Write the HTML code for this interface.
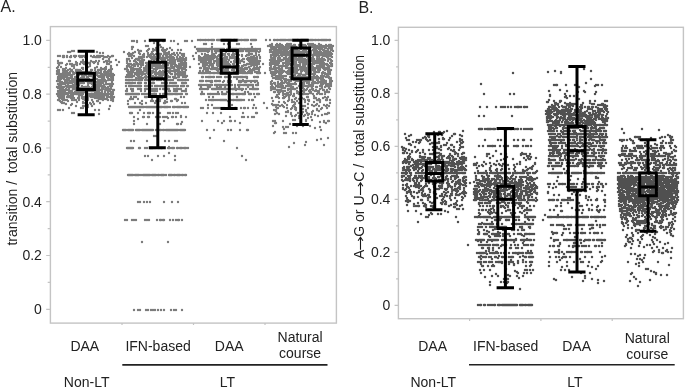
<!DOCTYPE html>
<html><head><meta charset="utf-8"><style>
html,body{margin:0;padding:0;background:#fff;width:685px;height:389px;overflow:hidden}
svg{display:block;filter:grayscale(100%)}
</style></head><body>
<svg width="685" height="389" viewBox="0 0 685 389" font-family="Liberation Sans, sans-serif" font-size="14" fill="#222">
<rect x="50.4" y="26.6" width="286" height="296.5" fill="none" stroke="#c4c4c4" stroke-width="1.4"/>
<rect x="398.4" y="27.3" width="285" height="291.4" fill="none" stroke="#c4c4c4" stroke-width="1.4"/>
<path d="M46.2 309.3H50.4 M394.6 305.4H398.4 M47.7 282.4H50.4 M396.1 278.9H398.4 M46.2 255.5H50.4 M394.6 252.4H398.4 M47.7 228.6H50.4 M396.1 225.9H398.4 M46.2 201.7H50.4 M394.6 199.4H398.4 M47.7 174.9H50.4 M396.1 172.9H398.4 M46.2 148.0H50.4 M394.6 146.4H398.4 M47.7 121.1H50.4 M396.1 119.9H398.4 M46.2 94.2H50.4 M394.6 93.4H398.4 M47.7 67.3H50.4 M396.1 66.9H398.4 M46.2 40.4H50.4 M394.6 40.4H398.4 M122.0 323.1v2 M193.5 323.1v2 M265.0 323.1v2 M469.6 318.9v2 M540.9 318.9v2 M612.2 318.9v2" stroke="#c4c4c4" stroke-width="1.2" fill="none"/>
<text x="41.9" y="314.2" text-anchor="end">0</text>
<text x="390.4" y="310.3" text-anchor="end">0</text>
<text x="41.9" y="260.4" text-anchor="end">0.2</text>
<text x="390.4" y="257.3" text-anchor="end">0.2</text>
<text x="41.9" y="206.6" text-anchor="end">0.4</text>
<text x="390.4" y="204.3" text-anchor="end">0.4</text>
<text x="41.9" y="152.9" text-anchor="end">0.6</text>
<text x="390.4" y="151.3" text-anchor="end">0.6</text>
<text x="41.9" y="99.1" text-anchor="end">0.8</text>
<text x="390.4" y="98.3" text-anchor="end">0.8</text>
<text x="41.9" y="45.3" text-anchor="end">1.0</text>
<text x="390.4" y="45.3" text-anchor="end">1.0</text>
<text transform="translate(17,158.8) rotate(-90)" text-anchor="middle" xml:space="preserve">transition /  total substitution</text>
<g transform="translate(364.3,260) rotate(-90)"><text x="0.9" y="0">A</text><text x="23.3" y="0">G or U</text><text x="78.2" y="0" xml:space="preserve">C /  total substitution</text><path d="M10.3 -3.8H22.5M19.2 -6.2L22.7 -3.8L19.2 -1.4M65.0 -3.8H77.0M73.7 -6.2L77.2 -3.8L73.7 -1.4" stroke="#1a1a1a" stroke-width="1.1" fill="none"/></g>
<text x="84.8" y="350.5" text-anchor="middle">DAA</text>
<text x="158.1" y="350.5" text-anchor="middle">IFN-based</text>
<text x="229.2" y="350.5" text-anchor="middle">DAA</text>
<text x="300.1" y="342.3" text-anchor="middle">Natural</text>
<text x="300.1" y="358.1" text-anchor="middle">course</text>
<text x="86.7" y="387.2" text-anchor="middle">Non-LT</text>
<text x="227.3" y="387.2" text-anchor="middle">LT</text>
<path d="M122.3 364.9H327.5" stroke="#222" stroke-width="1.6"/>
<text x="432.6" y="351.0" text-anchor="middle">DAA</text>
<text x="505.7" y="351.0" text-anchor="middle">IFN-based</text>
<text x="576.6" y="351.0" text-anchor="middle">DAA</text>
<text x="647.2" y="342.8" text-anchor="middle">Natural</text>
<text x="647.2" y="358.6" text-anchor="middle">course</text>
<text x="433.3" y="387.2" text-anchor="middle">Non-LT</text>
<text x="574.8" y="387.2" text-anchor="middle">LT</text>
<path d="M469.0 364.7H674.7" stroke="#222" stroke-width="1.6"/>
<text x="0.5" y="12.3" font-size="16">A.</text>
<text x="358.4" y="12.6" font-size="16">B.</text>
<path d="M68 52h0M70 52h0M72 51h0M74 51h0M97 52h0M100 53h0M103 53h0M60 63h0M116 60h0M117 65h0M119 62h0M63 56h0M71 56h0M103 56h0M91 56h0M63 56h0M82 56h0M85 56h0M67 56h0M99 56h0M64 56h0M80 56h0M87 56h0M82 56h0M91 56h0M99 56h0M112 56h0M74 56h0M94 56h0M97 56h0M74 56h0M58 56h0M113 56h0M75 56h0M76 56h0M108 56h0M91 56h0M84 56h0M101 56h0M60 56h0M98 56h0M79 56h0M63 57h0M95 57h0M110 57h0M70 57h0M93 57h0M75 57h0M99 57h0M98 57h0M71 57h0M104 57h0M95 57h0M96 57h0M104 57h0M82 57h0M100 57h0M107 57h0M64 57h0M105 57h0M80 57h0M85 57h0M67 57h0M97 57h0M75 57h0M93 62h0M91 61h0M103 59h0M70 61h0M95 62h0M58 61h0M83 61h0M107 61h0M109 59h0M106 61h0M99 61h0M90 64h0M96 61h0M109 61h0M83 60h0M109 61h0M111 62h0M76 62h0M107 62h0M84 62h0M104 62h0M110 62h0M81 62h0M94 63h0M111 62h0M83 63h0M72 64h0M62 63h0M87 63h0M107 64h0M69 61h0M107 63h0M88 63h0M59 65h0M62 63h0M61 63h0M90 63h0M98 64h0M70 64h0M86 64h0M67 64h0M77 63h0M72 64h0M58 63h0M74 65h0M80 64h0M66 65h0M89 63h0M111 67h0M109 64h0M74 65h0M76 64h0M84 64h0M111 66h0M98 63h0M72 65h0M77 65h0M59 65h0M72 66h0M72 66h0M74 66h0M88 67h0M74 65h0M106 67h0M86 65h0M58 67h0M95 70h0M103 69h0M90 66h0M57 68h0M101 68h0M83 68h0M111 68h0M65 69h0M74 68h0M61 67h0M82 68h0M95 68h0M66 68h0M100 70h0M106 69h0M97 67h0M68 70h0M105 68h0M105 68h0M83 69h0M70 69h0M63 70h0M112 69h0M91 70h0M98 70h0M99 70h0M101 70h0M76 70h0M77 70h0M78 70h0M80 70h0M110 70h0M92 70h0M59 71h0M103 69h0M79 71h0M59 70h0M104 69h0M98 72h0M71 71h0M67 72h0M58 70h0M101 71h0M105 69h0M102 69h0M63 69h0M67 71h0M98 72h0M91 71h0M81 71h0M65 71h0M101 71h0M109 70h0M91 73h0M104 72h0M96 73h0M66 71h0M110 71h0M64 71h0M108 71h0M57 73h0M91 73h0M76 71h0M66 72h0M88 72h0M88 72h0M57 71h0M78 72h0M72 70h0M84 72h0M67 72h0M111 72h0M83 72h0M73 72h0M105 71h0M73 74h0M75 73h0M65 74h0M105 72h0M104 72h0M96 72h0M83 73h0M74 74h0M70 72h0M78 73h0M70 72h0M97 74h0M99 73h0M78 73h0M58 73h0M78 71h0M69 73h0M85 74h0M111 71h0M67 73h0M88 72h0M108 73h0M101 73h0M90 73h0M89 72h0M88 72h0M63 73h0M81 73h0M112 74h0M110 73h0M57 74h0M98 72h0M96 73h0M61 74h0M64 73h0M64 73h0M63 72h0M69 73h0M59 71h0M65 73h0M68 74h0M70 74h0M106 75h0M58 73h0M92 73h0M62 74h0M77 73h0M84 73h0M66 71h0M107 72h0M61 74h0M89 72h0M75 73h0M81 74h0M105 74h0M66 74h0M70 74h0M58 74h0M95 74h0M62 74h0M61 74h0M104 74h0M68 74h0M60 74h0M92 74h0M68 73h0M80 74h0M113 74h0M106 74h0M71 76h0M60 74h0M97 75h0M59 76h0M113 74h0M113 74h0M70 75h0M101 75h0M90 75h0M90 75h0M78 77h0M102 74h0M109 75h0M91 72h0M65 76h0M71 75h0M113 76h0M113 76h0M66 75h0M72 75h0M77 75h0M89 76h0M102 75h0M60 75h0M82 75h0M111 75h0M101 75h0M86 75h0M108 74h0M93 76h0M64 77h0M59 74h0M114 75h0M104 76h0M88 77h0M69 75h0M69 75h0M63 75h0M61 76h0M88 74h0M113 76h0M110 76h0M108 76h0M79 75h0M62 77h0M71 76h0M98 76h0M59 73h0M62 76h0M59 76h0M60 77h0M83 76h0M64 76h0M60 76h0M99 76h0M89 79h0M84 76h0M110 76h0M113 76h0M91 76h0M63 75h0M104 76h0M94 76h0M67 76h0M65 77h0M104 76h0M67 77h0M72 76h0M58 77h0M77 76h0M64 75h0M100 73h0M92 76h0M93 77h0M104 77h0M83 78h0M108 78h0M87 77h0M82 77h0M107 77h0M78 77h0M102 77h0M99 77h0M93 77h0M84 77h0M58 77h0M83 77h0M93 77h0M94 77h0M61 77h0M86 79h0M75 77h0M69 78h0M102 79h0M111 77h0M102 77h0M83 76h0M67 78h0M72 78h0M95 78h0M112 80h0M108 78h0M103 80h0M102 78h0M113 78h0M64 78h0M62 78h0M64 79h0M102 78h0M77 77h0M75 78h0M58 78h0M95 77h0M64 78h0M58 78h0M81 78h0M88 78h0M101 77h0M104 78h0M91 81h0M64 78h0M76 77h0M84 78h0M72 79h0M100 81h0M60 79h0M80 79h0M59 79h0M58 79h0M92 80h0M72 79h0M109 79h0M100 80h0M97 79h0M64 79h0M74 79h0M97 79h0M61 79h0M84 79h0M83 79h0M59 79h0M69 78h0M67 79h0M83 81h0M71 77h0M92 80h0M93 79h0M113 80h0M87 79h0M111 79h0M104 81h0M67 80h0M86 80h0M69 80h0M61 79h0M102 82h0M93 80h0M83 80h0M82 81h0M71 78h0M101 80h0M100 81h0M79 80h0M60 80h0M111 80h0M109 80h0M101 80h0M105 80h0M76 80h0M66 80h0M72 80h0M69 80h0M100 80h0M58 80h0M108 80h0M86 81h0M70 81h0M72 81h0M81 82h0M65 80h0M59 81h0M98 80h0M101 81h0M102 81h0M92 83h0M105 81h0M72 82h0M60 81h0M95 81h0M89 81h0M59 81h0M74 81h0M82 81h0M79 81h0M75 81h0M57 81h0M87 81h0M60 82h0M58 81h0M77 81h0M95 81h0M81 83h0M60 84h0M106 81h0M73 82h0M72 82h0M98 82h0M69 82h0M91 82h0M77 82h0M97 82h0M103 83h0M62 83h0M97 82h0M86 81h0M100 82h0M88 82h0M93 83h0M71 82h0M78 81h0M72 81h0M106 83h0M94 83h0M60 83h0M112 82h0M77 82h0M74 82h0M97 82h0M99 82h0M65 81h0M62 82h0M112 84h0M94 82h0M65 82h0M71 83h0M100 82h0M78 82h0M67 82h0M72 83h0M92 83h0M111 80h0M112 82h0M90 83h0M78 83h0M101 83h0M78 83h0M64 83h0M74 81h0M112 84h0M94 83h0M73 81h0M80 83h0M60 83h0M112 84h0M112 83h0M69 83h0M76 83h0M91 83h0M98 83h0M113 84h0M97 84h0M92 84h0M110 84h0M67 83h0M101 84h0M113 84h0M65 84h0M58 84h0M99 86h0M83 83h0M68 85h0M95 86h0M58 84h0M63 84h0M106 84h0M109 84h0M75 84h0M76 84h0M88 83h0M112 85h0M84 83h0M76 84h0M95 86h0M92 83h0M60 85h0M68 85h0M111 85h0M73 85h0M74 85h0M88 85h0M89 87h0M94 85h0M65 83h0M96 85h0M94 85h0M61 85h0M79 85h0M70 86h0M99 85h0M92 84h0M111 84h0M74 86h0M110 86h0M59 86h0M107 84h0M72 86h0M100 84h0M104 85h0M83 87h0M96 86h0M90 88h0M74 86h0M61 86h0M61 87h0M66 86h0M88 86h0M67 86h0M93 86h0M58 84h0M75 86h0M112 85h0M101 86h0M105 89h0M90 88h0M73 86h0M69 86h0M103 86h0M74 86h0M97 86h0M61 86h0M61 86h0M67 87h0M62 87h0M112 86h0M98 86h0M82 86h0M95 88h0M73 87h0M93 86h0M94 86h0M70 86h0M88 87h0M57 87h0M71 87h0M99 87h0M103 87h0M105 87h0M72 87h0M73 88h0M97 87h0M69 87h0M82 86h0M59 86h0M85 87h0M99 87h0M86 87h0M96 86h0M73 87h0M64 87h0M92 87h0M97 87h0M100 86h0M75 87h0M96 87h0M105 87h0M98 88h0M80 88h0M97 87h0M107 88h0M59 87h0M81 88h0M63 88h0M100 90h0M60 89h0M73 88h0M69 88h0M78 87h0M81 88h0M96 88h0M58 88h0M73 88h0M87 88h0M60 88h0M87 88h0M99 88h0M98 88h0M82 88h0M105 89h0M98 88h0M82 88h0M75 88h0M78 88h0M103 87h0M82 89h0M61 88h0M89 88h0M108 87h0M73 89h0M83 88h0M81 88h0M75 88h0M76 89h0M114 90h0M65 91h0M111 89h0M98 89h0M61 90h0M102 88h0M77 89h0M73 89h0M96 90h0M61 90h0M105 87h0M74 89h0M71 87h0M78 89h0M84 89h0M76 90h0M106 89h0M111 88h0M103 89h0M77 88h0M74 89h0M109 89h0M98 89h0M97 89h0M108 89h0M111 88h0M66 89h0M79 90h0M96 89h0M85 88h0M60 89h0M95 89h0M66 89h0M79 91h0M71 91h0M60 90h0M108 90h0M60 90h0M113 91h0M108 90h0M99 90h0M78 90h0M60 91h0M62 88h0M61 89h0M107 90h0M90 90h0M62 90h0M96 90h0M106 90h0M101 90h0M69 90h0M113 90h0M95 90h0M85 90h0M68 90h0M66 90h0M94 91h0M102 90h0M64 91h0M98 88h0M60 91h0M97 92h0M105 91h0M95 92h0M63 92h0M65 90h0M105 89h0M93 91h0M92 91h0M75 92h0M82 89h0M62 91h0M72 91h0M61 92h0M63 91h0M110 91h0M79 91h0M91 91h0M58 91h0M84 92h0M83 91h0M59 91h0M87 91h0M65 93h0M98 91h0M78 91h0M105 91h0M94 91h0M97 92h0M78 91h0M73 93h0M81 91h0M105 92h0M63 92h0M60 90h0M98 92h0M113 92h0M87 92h0M102 92h0M75 92h0M71 94h0M61 92h0M105 92h0M82 92h0M79 92h0M89 91h0M84 90h0M111 92h0M69 92h0M60 91h0M113 92h0M77 90h0M70 92h0M64 90h0M76 92h0M74 94h0M82 91h0M74 93h0M84 92h0M96 91h0M63 92h0M78 93h0M81 91h0M59 92h0M59 92h0M68 93h0M66 93h0M57 94h0M72 93h0M101 93h0M108 92h0M61 93h0M111 93h0M79 94h0M94 94h0M62 91h0M87 93h0M71 94h0M69 93h0M60 94h0M78 94h0M99 92h0M69 93h0M95 93h0M98 93h0M97 93h0M98 94h0M82 94h0M99 93h0M87 94h0M82 94h0M78 94h0M77 93h0M96 95h0M92 94h0M63 94h0M98 94h0M100 95h0M96 94h0M83 94h0M87 94h0M77 93h0M72 94h0M75 92h0M81 94h0M99 94h0M98 94h0M80 93h0M113 94h0M98 91h0M61 95h0M77 94h0M91 94h0M89 94h0M99 91h0M61 93h0M107 94h0M88 95h0M104 94h0M110 94h0M58 93h0M108 93h0M68 97h0M76 94h0M58 93h0M79 94h0M105 93h0M68 95h0M66 94h0M70 96h0M108 94h0M68 94h0M100 94h0M104 94h0M77 94h0M103 94h0M59 93h0M99 95h0M104 95h0M92 95h0M71 95h0M64 95h0M81 94h0M102 96h0M60 95h0M78 94h0M83 93h0M108 97h0M71 95h0M105 95h0M79 95h0M106 95h0M94 95h0M81 95h0M111 96h0M106 94h0M88 95h0M73 95h0M104 95h0M59 94h0M97 95h0M102 95h0M58 96h0M85 98h0M64 96h0M62 97h0M97 95h0M108 96h0M62 98h0M86 93h0M112 96h0M96 96h0M107 94h0M111 98h0M99 96h0M79 96h0M90 96h0M64 96h0M112 95h0M88 96h0M98 97h0M70 96h0M61 96h0M101 96h0M63 96h0M69 96h0M85 97h0M108 96h0M97 97h0M104 99h0M82 97h0M82 96h0M107 97h0M95 97h0M84 97h0M62 99h0M91 97h0M114 97h0M59 97h0M102 97h0M72 96h0M101 99h0M101 97h0M83 97h0M110 97h0M61 98h0M99 97h0M102 97h0M90 96h0M87 97h0M112 96h0M96 97h0M91 97h0M69 97h0M78 98h0M107 97h0M71 96h0M88 99h0M104 97h0M62 97h0M61 97h0M71 97h0M86 97h0M87 98h0M74 98h0M101 98h0M98 98h0M72 96h0M71 98h0M73 97h0M60 97h0M71 98h0M108 97h0M59 97h0M99 97h0M87 98h0M103 98h0M93 97h0M87 98h0M79 98h0M107 98h0M111 100h0M84 99h0M84 99h0M101 98h0M61 98h0M92 100h0M101 98h0M72 98h0M100 98h0M86 98h0M74 100h0M97 98h0M63 99h0M106 99h0M104 98h0M85 98h0M88 98h0M113 97h0M88 99h0M102 98h0M95 98h0M67 97h0M63 98h0M101 99h0M79 99h0M108 97h0M59 99h0M82 98h0M64 98h0M83 99h0M103 99h0M113 99h0M86 99h0M79 99h0M88 97h0M67 100h0M63 100h0M108 100h0M59 100h0M76 100h0M99 99h0M112 100h0M85 100h0M88 100h0M72 100h0M79 100h0M58 100h0M65 100h0M113 100h0M60 101h0M74 100h0M113 101h0M100 103h0M68 101h0M62 102h0M103 100h0M98 101h0M97 101h0M83 103h0M61 102h0M62 103h0M85 103h0M83 102h0M77 102h0M62 103h0M64 103h0M72 104h0M94 104h0M90 103h0M93 102h0M71 105h0M91 104h0M94 104h0M66 104h0M88 107h0M83 106h0M88 105h0M92 106h0M85 106h0M69 108h0M110 106h0M76 106h0M81 108h0M83 108h0M63 110h0M109 109h0M95 110h0M58 110h0M60 110h0M99 114h0M99 110h0M74 113h0M72 113h0M164 41h0M159 41h0M166 50h0M138 50h0M133 53h0M156 41h0M160 45h0M156 48h0M148 46h0M132 47h0M146 46h0M149 49h0M146 46h0M158 47h0M153 49h0M178 50h0M157 48h0M130 55h0M139 53h0M167 49h0M170 48h0M140 51h0M161 47h0M172 50h0M169 52h0M163 51h0M148 54h0M172 54h0M153 57h0M155 50h0M162 50h0M141 51h0M135 52h0M163 48h0M157 51h0M156 50h0M132 49h0M180 53h0M147 51h0M153 54h0M174 54h0M158 50h0M182 55h0M160 54h0M139 57h0M144 56h0M154 55h0M148 50h0M183 55h0M140 54h0M163 56h0M159 54h0M182 54h0M177 53h0M153 51h0M158 54h0M132 55h0M129 56h0M183 56h0M166 55h0M131 54h0M147 57h0M169 57h0M166 53h0M152 52h0M184 54h0M139 52h0M129 53h0M180 57h0M167 53h0M164 50h0M128 54h0M153 54h0M161 54h0M144 57h0M140 51h0M162 58h0M143 57h0M171 55h0M164 52h0M170 56h0M181 58h0M183 58h0M168 57h0M128 54h0M131 54h0M163 59h0M160 54h0M167 55h0M144 56h0M148 53h0M134 56h0M169 54h0M150 57h0M143 55h0M162 58h0M184 56h0M184 54h0M175 55h0M164 54h0M151 55h0M185 59h0M150 55h0M129 59h0M153 54h0M164 58h0M151 56h0M149 55h0M139 59h0M167 58h0M161 58h0M148 56h0M173 59h0M170 58h0M144 54h0M166 57h0M154 61h0M165 58h0M158 60h0M163 59h0M141 61h0M160 56h0M174 59h0M155 59h0M151 54h0M164 60h0M157 60h0M170 56h0M134 61h0M158 61h0M144 60h0M173 57h0M183 57h0M153 59h0M178 59h0M135 60h0M131 56h0M157 60h0M173 59h0M154 63h0M127 59h0M186 59h0M142 59h0M151 54h0M175 61h0M174 58h0M141 57h0M167 57h0M155 57h0M185 61h0M181 64h0M127 60h0M170 62h0M136 59h0M149 61h0M183 63h0M186 58h0M154 59h0M149 61h0M137 59h0M153 59h0M155 59h0M186 64h0M160 58h0M181 59h0M184 59h0M127 59h0M162 59h0M172 57h0M170 59h0M136 59h0M177 57h0M151 62h0M170 60h0M180 64h0M173 60h0M143 63h0M162 60h0M127 61h0M156 54h0M127 60h0M186 63h0M146 63h0M182 59h0M134 56h0M184 63h0M138 59h0M178 61h0M177 59h0M165 64h0M158 59h0M184 59h0M175 63h0M160 56h0M170 61h0M136 62h0M173 62h0M138 60h0M136 64h0M180 68h0M165 60h0M160 56h0M154 55h0M143 61h0M178 60h0M178 55h0M149 64h0M132 58h0M173 59h0M148 65h0M171 65h0M171 58h0M184 60h0M136 62h0M160 58h0M141 63h0M149 65h0M127 61h0M138 64h0M175 60h0M146 66h0M157 69h0M149 66h0M179 59h0M130 64h0M174 64h0M186 60h0M181 66h0M161 59h0M140 61h0M160 65h0M167 64h0M165 65h0M141 65h0M137 64h0M141 62h0M149 63h0M156 64h0M141 58h0M180 65h0M179 61h0M152 59h0M172 65h0M143 62h0M168 60h0M160 57h0M127 68h0M182 61h0M149 67h0M173 63h0M127 63h0M142 57h0M135 66h0M137 63h0M130 61h0M164 64h0M171 62h0M172 60h0M129 64h0M134 65h0M142 64h0M159 57h0M180 65h0M138 64h0M127 63h0M167 63h0M150 67h0M152 64h0M186 63h0M150 71h0M129 65h0M181 62h0M150 70h0M147 65h0M169 63h0M175 66h0M138 66h0M170 63h0M180 61h0M158 64h0M177 66h0M128 71h0M151 61h0M152 63h0M183 65h0M134 64h0M131 64h0M128 66h0M178 66h0M174 67h0M171 65h0M155 63h0M154 65h0M155 66h0M148 64h0M170 61h0M185 67h0M141 63h0M182 63h0M172 64h0M141 67h0M172 67h0M156 67h0M134 64h0M143 65h0M160 68h0M151 64h0M146 69h0M151 66h0M156 64h0M151 58h0M158 64h0M163 65h0M138 71h0M141 65h0M180 67h0M170 71h0M141 64h0M180 66h0M157 59h0M164 66h0M127 67h0M152 68h0M154 61h0M151 68h0M181 65h0M175 72h0M144 68h0M140 69h0M185 64h0M156 65h0M128 65h0M134 66h0M134 66h0M166 66h0M156 68h0M148 63h0M175 64h0M155 63h0M172 68h0M129 64h0M140 64h0M151 64h0M163 66h0M185 69h0M160 64h0M163 74h0M147 63h0M148 74h0M131 67h0M179 69h0M127 68h0M128 66h0M169 68h0M168 68h0M185 65h0M186 66h0M179 64h0M144 74h0M140 68h0M183 69h0M182 64h0M136 69h0M156 72h0M140 62h0M167 68h0M162 68h0M152 67h0M131 68h0M178 68h0M156 68h0M184 66h0M153 72h0M128 70h0M147 67h0M146 69h0M132 68h0M170 69h0M146 67h0M127 71h0M131 67h0M149 68h0M179 68h0M175 71h0M150 70h0M176 70h0M133 68h0M160 71h0M186 67h0M141 72h0M161 66h0M132 65h0M174 68h0M134 70h0M137 71h0M178 66h0M141 70h0M163 68h0M149 71h0M166 77h0M141 72h0M154 64h0M131 70h0M156 68h0M161 72h0M166 69h0M177 67h0M150 63h0M166 63h0M132 70h0M128 71h0M138 71h0M168 71h0M157 66h0M172 64h0M159 66h0M176 71h0M186 70h0M151 72h0M153 66h0M132 68h0M139 71h0M179 70h0M136 73h0M154 69h0M130 67h0M142 72h0M171 68h0M156 70h0M153 71h0M145 68h0M141 72h0M156 73h0M163 68h0M171 71h0M168 65h0M140 72h0M177 67h0M163 71h0M166 67h0M181 68h0M181 65h0M186 70h0M173 71h0M161 72h0M145 71h0M186 70h0M133 72h0M127 69h0M178 73h0M146 71h0M149 71h0M184 69h0M185 73h0M151 71h0M147 73h0M156 73h0M128 72h0M171 66h0M130 72h0M159 72h0M147 68h0M142 73h0M158 68h0M132 76h0M148 73h0M182 72h0M175 70h0M155 74h0M155 69h0M133 68h0M127 66h0M141 71h0M184 72h0M155 72h0M166 74h0M148 72h0M152 73h0M155 77h0M183 68h0M131 69h0M171 71h0M138 74h0M185 72h0M140 72h0M179 71h0M179 73h0M147 69h0M137 72h0M160 74h0M141 71h0M185 69h0M175 74h0M138 69h0M156 74h0M151 66h0M170 77h0M174 71h0M180 72h0M183 73h0M134 69h0M133 68h0M136 69h0M152 77h0M149 77h0M179 71h0M132 74h0M147 71h0M174 70h0M129 74h0M167 74h0M128 71h0M162 74h0M156 77h0M128 75h0M162 68h0M145 74h0M130 74h0M133 72h0M181 75h0M156 75h0M163 75h0M147 71h0M145 74h0M144 70h0M127 75h0M131 72h0M160 75h0M132 73h0M138 76h0M134 70h0M178 69h0M158 73h0M186 77h0M159 74h0M162 75h0M187 76h0M139 76h0M143 73h0M147 72h0M177 71h0M178 77h0M157 74h0M162 72h0M170 73h0M143 78h0M143 72h0M138 78h0M141 73h0M142 75h0M159 68h0M132 68h0M150 74h0M149 71h0M160 72h0M139 77h0M131 75h0M183 77h0M128 74h0M184 72h0M171 74h0M178 75h0M132 77h0M147 71h0M172 74h0M135 73h0M150 74h0M180 75h0M162 77h0M164 72h0M171 74h0M173 77h0M175 76h0M159 77h0M151 74h0M150 74h0M145 77h0M142 75h0M156 75h0M134 69h0M159 74h0M138 75h0M159 76h0M144 74h0M127 77h0M139 75h0M152 73h0M168 77h0M141 77h0M138 72h0M181 73h0M129 77h0M148 72h0M140 78h0M139 74h0M183 77h0M161 78h0M170 77h0M149 73h0M172 74h0M135 74h0M150 76h0M158 77h0M185 77h0M134 76h0M139 77h0M174 78h0M167 78h0M131 75h0M183 74h0M128 74h0M154 72h0M175 76h0M183 76h0M130 74h0M168 76h0M140 74h0M167 75h0M176 74h0M153 76h0M141 77h0M135 74h0M161 76h0M136 78h0M176 78h0M137 75h0M185 74h0M169 72h0M178 77h0M185 75h0M183 76h0M184 76h0M167 77h0M163 72h0M140 77h0M126 77h0M162 74h0M183 75h0M159 72h0M135 74h0M132 77h0M148 77h0M131 77h0M179 77h0M130 75h0M184 74h0M161 77h0M135 74h0M146 78h0M142 78h0M167 77h0M151 78h0M151 76h0M155 78h0M192 41h0M185 41h0M156 41h0M137 42h0M154 43h0M158 44h0M178 44h0M133 47h0M195 47h0M181 50h0M124 52h0M165 52h0M168 53h0M174 53h0M129 55h0M171 55h0M150 56h0M181 60h0M174 61h0M170 61h0M162 62h0M157 63h0M165 64h0M186 65h0M176 65h0M190 67h0M125 69h0M182 70h0M146 76h0M155 97h0M184 97h0M162 98h0M131 99h0M152 99h0M160 99h0M178 100h0M128 101h0M171 101h0M156 101h0M167 102h0M155 103h0M146 103h0M158 103h0M140 103h0M142 104h0M128 104h0M140 110h0M181 116h0M176 117h0M168 118h0M138 119h0M164 121h0M134 121h0M182 122h0M169 147h0M169 153h0M134 41h0M145 41h0M154 41h0M187 41h0M174 41h0M137 41h0M163 41h0M171 41h0M132 41h0M150 41h0M185 41h0M159 41h0M157 80h0M159 80h0M164 80h0M165 80h0M167 80h0M185 80h0M153 80h0M171 80h0M171 80h0M170 80h0M168 80h0M132 80h0M180 80h0M166 80h0M179 80h0M154 80h0M142 80h0M147 80h0M150 80h0M136 80h0M181 80h0M145 80h0M178 80h0M129 80h0M154 80h0M183 80h0M182 80h0M148 80h0M149 80h0M161 80h0M186 80h0M138 80h0M153 80h0M188 80h0M185 80h0M161 80h0M164 80h0M188 80h0M141 80h0M168 80h0M136 80h0M135 80h0M133 80h0M170 80h0M147 80h0M147 80h0M180 80h0M152 80h0M188 80h0M157 80h0M173 80h0M171 80h0M128 80h0M140 80h0M130 80h0M161 80h0M181 80h0M149 80h0M139 80h0M129 80h0M129 80h0M166 80h0M136 80h0M165 80h0M126 80h0M186 80h0M129 80h0M149 83h0M182 83h0M146 83h0M175 83h0M138 83h0M132 83h0M162 83h0M170 83h0M130 83h0M172 83h0M145 83h0M183 83h0M127 83h0M167 83h0M170 83h0M128 83h0M165 83h0M132 83h0M153 83h0M176 83h0M174 83h0M150 83h0M182 83h0M151 83h0M126 83h0M165 83h0M164 83h0M174 83h0M140 83h0M174 83h0M186 83h0M135 83h0M139 83h0M152 83h0M185 83h0M131 83h0M153 83h0M154 83h0M151 83h0M133 83h0M175 83h0M129 83h0M141 83h0M183 83h0M184 83h0M127 83h0M166 83h0M182 86h0M161 86h0M158 86h0M164 86h0M129 86h0M184 86h0M155 86h0M132 86h0M172 86h0M174 86h0M132 86h0M149 86h0M152 86h0M172 86h0M152 86h0M160 86h0M151 86h0M150 86h0M163 86h0M183 86h0M158 86h0M167 86h0M170 86h0M174 86h0M138 86h0M138 86h0M163 86h0M188 86h0M148 86h0M184 86h0M130 86h0M168 86h0M161 86h0M147 86h0M126 86h0M130 86h0M146 86h0M176 86h0M173 86h0M182 86h0M130 86h0M187 86h0M126 86h0M168 86h0M157 86h0M162 86h0M148 86h0M148 86h0M141 86h0M134 86h0M156 86h0M167 86h0M166 86h0M139 86h0M148 86h0M141 86h0M183 86h0M155 86h0M148 86h0M152 86h0M177 86h0M136 86h0M178 86h0M166 86h0M150 86h0M184 86h0M169 86h0M137 86h0M174 86h0M184 86h0M131 86h0M177 86h0M136 86h0M155 86h0M176 86h0M138 86h0M134 86h0M181 86h0M130 86h0M140 86h0M145 86h0M176 86h0M147 86h0M152 86h0M145 86h0M155 86h0M146 86h0M145 89h0M155 89h0M160 89h0M147 89h0M151 89h0M180 89h0M177 89h0M169 89h0M163 89h0M176 89h0M155 89h0M164 89h0M174 89h0M141 89h0M131 89h0M153 89h0M127 89h0M178 89h0M165 89h0M140 89h0M138 89h0M133 89h0M181 89h0M186 89h0M154 89h0M157 89h0M168 89h0M154 91h0M186 91h0M141 91h0M155 91h0M132 91h0M141 91h0M157 91h0M175 91h0M127 91h0M184 91h0M185 91h0M145 91h0M177 91h0M133 91h0M174 91h0M152 91h0M126 91h0M127 91h0M182 91h0M176 91h0M169 91h0M155 91h0M133 91h0M149 91h0M170 91h0M185 91h0M127 94h0M151 94h0M181 94h0M136 94h0M165 94h0M171 94h0M165 94h0M169 94h0M132 94h0M135 94h0M127 94h0M142 94h0M160 94h0M142 94h0M170 94h0M142 94h0M137 94h0M186 94h0M154 94h0M149 94h0M177 94h0M130 94h0M165 94h0M181 94h0M129 94h0M145 94h0M133 94h0M163 94h0M172 94h0M170 94h0M151 94h0M132 94h0M128 94h0M153 94h0M182 94h0M131 94h0M142 94h0M168 94h0M163 94h0M182 94h0M134 94h0M131 94h0M178 94h0M177 94h0M147 94h0M149 94h0M155 94h0M163 94h0M127 94h0M180 94h0M134 94h0M128 94h0M142 94h0M126 94h0M177 94h0M154 94h0M129 94h0M130 94h0M175 94h0M138 94h0M180 94h0M139 94h0M156 94h0M168 94h0M173 94h0M181 94h0M137 94h0M163 94h0M168 94h0M148 94h0M165 94h0M168 94h0M187 94h0M154 94h0M156 94h0M137 94h0M176 94h0M127 94h0M131 94h0M164 94h0M175 94h0M166 94h0M144 94h0M131 94h0M165 97h0M162 97h0M145 97h0M153 97h0M136 97h0M164 97h0M131 97h0M161 97h0M146 97h0M134 97h0M181 97h0M181 97h0M147 97h0M181 97h0M175 99h0M176 99h0M130 99h0M167 99h0M138 99h0M133 99h0M177 101h0M142 101h0M160 101h0M172 101h0M165 101h0M153 101h0M151 101h0M157 101h0M164 103h0M185 103h0M135 103h0M165 103h0M182 103h0M135 103h0M185 107h0M139 107h0M184 107h0M142 107h0M152 107h0M132 107h0M165 107h0M143 107h0M154 107h0M146 107h0M165 107h0M148 107h0M155 107h0M173 107h0M164 107h0M160 107h0M187 107h0M170 107h0M160 107h0M167 107h0M131 107h0M143 107h0M155 107h0M173 107h0M147 107h0M179 107h0M186 107h0M129 107h0M155 107h0M133 107h0M185 107h0M131 107h0M188 107h0M129 107h0M130 107h0M153 107h0M152 107h0M164 107h0M132 107h0M151 107h0M177 107h0M149 107h0M178 107h0M149 107h0M149 107h0M178 107h0M147 107h0M138 107h0M181 107h0M183 107h0M168 107h0M142 107h0M180 107h0M129 107h0M143 107h0M164 107h0M156 107h0M183 107h0M129 107h0M174 107h0M147 107h0M141 107h0M180 107h0M150 107h0M158 107h0M153 107h0M139 107h0M148 107h0M175 107h0M166 107h0M186 107h0M131 107h0M136 107h0M165 107h0M129 107h0M162 107h0M139 107h0M132 107h0M137 107h0M134 107h0M164 107h0M151 107h0M130 107h0M161 107h0M140 107h0M149 107h0M173 107h0M187 107h0M177 107h0M167 107h0M185 107h0M140 107h0M160 107h0M144 107h0M135 107h0M185 107h0M170 113h0M132 113h0M168 113h0M150 113h0M144 113h0M148 113h0M160 113h0M173 113h0M130 113h0M178 113h0M176 113h0M149 113h0M131 113h0M153 113h0M138 113h0M165 117h0M134 117h0M186 117h0M157 117h0M172 117h0M149 117h0M181 117h0M156 117h0M181 117h0M173 117h0M172 117h0M167 117h0M148 117h0M163 117h0M160 117h0M143 117h0M167 117h0M144 117h0M160 124h0M147 124h0M134 124h0M181 124h0M177 124h0M178 124h0M173 130h0M129 130h0M139 130h0M137 130h0M170 130h0M123 130h0M149 130h0M178 130h0M147 130h0M182 130h0M185 130h0M169 130h0M140 130h0M142 130h0M146 130h0M169 130h0M167 130h0M172 130h0M181 130h0M126 130h0M143 130h0M136 130h0M131 130h0M177 130h0M137 130h0M185 130h0M145 130h0M150 130h0M174 130h0M184 130h0M183 130h0M146 130h0M176 130h0M132 130h0M161 130h0M124 130h0M130 130h0M133 130h0M140 130h0M183 130h0M146 130h0M182 130h0M148 130h0M131 130h0M177 130h0M185 130h0M146 130h0M148 130h0M185 130h0M167 130h0M185 130h0M147 130h0M156 130h0M164 130h0M178 130h0M163 130h0M177 130h0M180 130h0M160 130h0M183 130h0M133 130h0M136 130h0M151 130h0M175 130h0M166 130h0M151 130h0M157 130h0M153 130h0M177 130h0M131 130h0M172 130h0M137 130h0M161 130h0M161 130h0M171 130h0M137 130h0M175 130h0M168 130h0M138 130h0M161 130h0M152 130h0M177 130h0M124 130h0M170 130h0M157 130h0M128 130h0M149 130h0M169 130h0M163 130h0M170 130h0M145 130h0M156 130h0M142 130h0M171 130h0M170 130h0M181 130h0M144 130h0M145 130h0M170 130h0M125 130h0M157 130h0M166 130h0M156 136h0M154 136h0M169 141h0M134 141h0M175 141h0M177 141h0M165 141h0M131 141h0M147 141h0M128 148h0M139 148h0M150 148h0M159 148h0M172 148h0M170 148h0M174 148h0M173 148h0M174 148h0M128 148h0M150 148h0M184 148h0M151 148h0M129 148h0M127 148h0M177 148h0M147 148h0M147 148h0M177 148h0M177 148h0M152 148h0M172 148h0M133 148h0M181 148h0M178 148h0M177 148h0M181 148h0M155 148h0M185 148h0M153 148h0M169 148h0M145 148h0M132 148h0M140 148h0M130 148h0M161 148h0M182 148h0M186 148h0M188 148h0M162 148h0M127 148h0M131 148h0M150 148h0M180 148h0M168 148h0M145 156h0M164 156h0M158 156h0M175 156h0M158 156h0M148 156h0M175 160h0M152 160h0M141 175h0M128 175h0M171 175h0M154 175h0M154 175h0M179 175h0M138 175h0M152 175h0M158 175h0M147 175h0M129 175h0M177 175h0M147 175h0M144 175h0M152 175h0M179 175h0M132 175h0M145 175h0M131 175h0M164 175h0M139 175h0M148 175h0M138 175h0M136 175h0M155 175h0M136 175h0M162 175h0M177 175h0M180 175h0M183 175h0M137 175h0M136 175h0M170 175h0M153 175h0M149 175h0M131 175h0M156 175h0M155 175h0M186 175h0M185 175h0M143 175h0M166 175h0M138 175h0M144 175h0M155 175h0M169 175h0M146 175h0M183 175h0M150 175h0M163 175h0M144 175h0M182 175h0M150 175h0M169 175h0M178 175h0M148 175h0M161 175h0M175 175h0M159 175h0M172 175h0M159 175h0M180 175h0M130 175h0M129 175h0M149 175h0M174 175h0M128 175h0M135 175h0M133 175h0M182 175h0M185 175h0M142 242h0M168 242h0M138 202h0M140 202h0M144 202h0M147 202h0M150 202h0M164 202h0M172 202h0M178 202h0M125 220h0M127 220h0M132 220h0M134 220h0M136 220h0M145 220h0M147 220h0M149 220h0M157 220h0M160 220h0M161 220h0M163 220h0M164 220h0M170 220h0M173 220h0M176 220h0M178 220h0M179 220h0M182 220h0M134 310h0M138 310h0M140 310h0M146 310h0M148 310h0M151 310h0M153 310h0M155 310h0M158 310h0M161 310h0M164 310h0M171 310h0M174 310h0M176 310h0M182 310h0M203 40h0M242 40h0M212 40h0M206 40h0M203 40h0M238 40h0M229 40h0M253 40h0M241 40h0M217 40h0M206 40h0M241 40h0M212 40h0M198 40h0M222 40h0M234 40h0M223 40h0M245 40h0M237 40h0M255 40h0M248 40h0M228 40h0M235 40h0M244 40h0M241 40h0M214 40h0M252 40h0M253 40h0M229 40h0M226 40h0M200 40h0M256 40h0M228 40h0M220 40h0M208 40h0M224 40h0M247 40h0M231 40h0M209 40h0M248 40h0M211 40h0M248 40h0M230 40h0M226 40h0M241 40h0M230 40h0M224 40h0M220 40h0M237 40h0M226 40h0M239 40h0M254 40h0M198 40h0M208 40h0M200 40h0M255 40h0M212 40h0M217 40h0M246 40h0M213 40h0M200 40h0M227 40h0M209 40h0M206 40h0M201 40h0M227 40h0M253 40h0M242 40h0M247 40h0M211 40h0M220 40h0M244 40h0M220 40h0M242 40h0M253 40h0M251 40h0M219 40h0M254 40h0M245 40h0M239 40h0M237 40h0M246 40h0M225 40h0M218 40h0M213 40h0M219 40h0M213 40h0M205 40h0M251 40h0M239 40h0M241 40h0M200 40h0M254 40h0M251 44h0M204 44h0M239 44h0M212 44h0M224 44h0M228 44h0M206 44h0M237 44h0M252 47h0M230 47h0M212 47h0M223 49h0M219 49h0M216 49h0M210 49h0M205 49h0M233 49h0M256 49h0M200 49h0M250 49h0M218 49h0M237 49h0M199 49h0M198 49h0M249 49h0M210 49h0M220 49h0M224 49h0M251 49h0M224 49h0M247 49h0M219 49h0M224 49h0M209 49h0M239 49h0M250 49h0M206 49h0M242 49h0M219 49h0M236 49h0M232 49h0M258 49h0M201 49h0M228 49h0M206 49h0M202 49h0M241 49h0M239 49h0M206 49h0M235 49h0M253 49h0M248 49h0M214 49h0M217 49h0M250 49h0M237 49h0M245 49h0M255 49h0M199 49h0M222 49h0M203 49h0M233 49h0M206 49h0M235 49h0M215 49h0M244 49h0M224 49h0M236 49h0M227 49h0M214 49h0M260 49h0M204 49h0M240 49h0M220 49h0M221 49h0M228 49h0M234 49h0M228 49h0M241 49h0M256 49h0M200 49h0M222 49h0M204 49h0M215 49h0M207 49h0M211 49h0M217 49h0M197 49h0M216 49h0M247 49h0M258 49h0M201 49h0M205 49h0M212 49h0M220 49h0M218 49h0M223 49h0M249 49h0M206 49h0M211 49h0M223 51h0M230 51h0M251 51h0M236 51h0M209 51h0M237 51h0M238 51h0M200 51h0M202 51h0M218 51h0M221 51h0M249 51h0M204 51h0M250 51h0M240 51h0M207 51h0M256 51h0M243 51h0M254 51h0M252 51h0M253 51h0M248 51h0M242 51h0M246 51h0M201 51h0M260 51h0M246 51h0M247 51h0M229 51h0M241 51h0M235 51h0M221 51h0M231 51h0M206 51h0M240 51h0M257 51h0M212 51h0M256 51h0M215 51h0M206 51h0M237 51h0M253 51h0M212 51h0M242 51h0M256 51h0M255 51h0M219 51h0M234 51h0M217 51h0M241 51h0M208 51h0M260 51h0M233 51h0M198 51h0M221 51h0M213 73h0M201 73h0M220 73h0M251 73h0M240 73h0M245 73h0M203 73h0M246 73h0M232 73h0M233 73h0M207 73h0M259 73h0M248 73h0M247 73h0M258 73h0M220 73h0M222 73h0M231 73h0M202 73h0M247 73h0M231 73h0M257 73h0M237 73h0M227 73h0M257 73h0M219 73h0M233 73h0M205 73h0M211 73h0M251 73h0M205 73h0M243 73h0M211 73h0M236 73h0M210 73h0M232 73h0M231 73h0M227 73h0M203 73h0M250 73h0M250 73h0M260 73h0M242 73h0M248 73h0M223 73h0M235 73h0M244 73h0M230 73h0M258 73h0M233 73h0M201 73h0M202 73h0M207 73h0M215 73h0M247 73h0M259 73h0M210 73h0M204 73h0M218 73h0M247 73h0M252 73h0M214 73h0M244 73h0M236 73h0M228 73h0M213 77h0M254 77h0M238 77h0M213 77h0M226 77h0M241 77h0M240 77h0M234 77h0M236 77h0M234 77h0M246 77h0M242 77h0M214 77h0M255 77h0M237 77h0M217 77h0M229 77h0M255 77h0M208 77h0M219 77h0M211 77h0M209 77h0M214 77h0M236 77h0M203 77h0M238 77h0M202 77h0M221 77h0M210 77h0M228 77h0M228 77h0M243 77h0M240 77h0M225 77h0M258 77h0M237 77h0M230 77h0M247 77h0M230 77h0M257 77h0M231 77h0M245 77h0M228 77h0M245 77h0M240 77h0M240 77h0M257 77h0M226 77h0M206 77h0M245 77h0M219 77h0M234 77h0M219 81h0M200 81h0M256 81h0M206 81h0M202 81h0M207 81h0M256 81h0M255 81h0M209 81h0M252 81h0M224 81h0M228 81h0M239 81h0M202 81h0M248 81h0M254 81h0M242 81h0M201 81h0M240 81h0M243 81h0M250 81h0M240 81h0M203 81h0M241 81h0M209 81h0M248 81h0M215 81h0M201 81h0M219 81h0M200 81h0M211 81h0M247 81h0M229 81h0M220 81h0M207 81h0M231 81h0M217 81h0M254 81h0M246 81h0M246 81h0M216 81h0M257 81h0M212 81h0M244 81h0M241 82h0M245 82h0M246 82h0M240 82h0M228 82h0M239 82h0M231 82h0M212 82h0M212 82h0M251 82h0M228 82h0M231 82h0M223 82h0M255 82h0M211 82h0M246 82h0M258 85h0M220 85h0M231 85h0M199 85h0M245 85h0M200 85h0M219 85h0M225 85h0M249 85h0M202 85h0M225 85h0M253 85h0M240 85h0M207 85h0M232 85h0M251 85h0M199 85h0M240 85h0M250 85h0M240 85h0M231 85h0M223 85h0M227 85h0M219 85h0M226 85h0M243 85h0M256 85h0M210 85h0M206 85h0M212 85h0M218 85h0M204 85h0M217 85h0M223 85h0M241 85h0M225 85h0M215 85h0M244 85h0M238 85h0M221 85h0M211 85h0M238 85h0M253 85h0M215 85h0M211 85h0M251 85h0M257 85h0M252 85h0M238 85h0M208 85h0M201 85h0M243 85h0M235 85h0M211 85h0M225 85h0M253 85h0M247 85h0M248 85h0M216 85h0M246 85h0M246 85h0M219 85h0M248 85h0M208 85h0M257 85h0M257 85h0M200 85h0M202 85h0M208 85h0M201 87h0M221 87h0M208 87h0M220 87h0M217 87h0M235 87h0M239 87h0M209 87h0M248 87h0M221 87h0M225 87h0M253 87h0M210 87h0M220 89h0M212 89h0M216 89h0M230 89h0M224 89h0M257 89h0M213 89h0M223 89h0M214 89h0M219 89h0M202 89h0M203 89h0M225 89h0M205 89h0M201 89h0M234 89h0M207 89h0M226 89h0M246 89h0M240 89h0M241 89h0M232 89h0M246 89h0M229 89h0M239 89h0M236 89h0M252 89h0M208 89h0M215 89h0M237 89h0M205 89h0M208 89h0M202 89h0M256 89h0M243 89h0M227 89h0M202 89h0M236 89h0M234 89h0M224 89h0M252 89h0M255 89h0M235 89h0M235 89h0M258 89h0M242 89h0M233 89h0M217 89h0M233 89h0M258 89h0M243 89h0M253 89h0M235 89h0M240 89h0M221 89h0M200 89h0M250 89h0M227 89h0M213 89h0M237 89h0M252 89h0M236 89h0M254 89h0M218 92h0M202 92h0M248 92h0M227 92h0M245 92h0M222 92h0M202 94h0M226 94h0M250 94h0M259 94h0M243 94h0M213 94h0M238 94h0M202 94h0M219 94h0M258 94h0M215 94h0M237 94h0M217 94h0M226 94h0M202 94h0M257 94h0M208 94h0M208 94h0M204 94h0M219 94h0M244 94h0M249 94h0M225 94h0M254 94h0M239 94h0M240 94h0M204 94h0M226 94h0M213 94h0M236 94h0M232 94h0M257 94h0M208 94h0M224 94h0M226 94h0M222 94h0M234 94h0M236 94h0M249 94h0M237 94h0M230 94h0M239 94h0M249 94h0M233 94h0M254 94h0M217 94h0M211 94h0M215 94h0M204 94h0M217 94h0M245 94h0M202 94h0M232 94h0M201 94h0M223 94h0M210 94h0M217 94h0M239 94h0M251 94h0M242 94h0M215 94h0M255 97h0M237 97h0M209 97h0M213 97h0M222 100h0M218 100h0M249 100h0M244 100h0M253 100h0M253 100h0M226 100h0M224 100h0M213 100h0M231 100h0M242 100h0M231 100h0M209 100h0M214 100h0M240 100h0M236 100h0M239 100h0M233 100h0M216 100h0M214 100h0M238 100h0M222 100h0M241 100h0M214 100h0M212 100h0M211 100h0M221 100h0M241 100h0M206 100h0M216 100h0M223 100h0M252 100h0M225 100h0M237 100h0M230 100h0M220 100h0M234 100h0M232 105h0M212 105h0M208 105h0M254 105h0M218 108h0M235 108h0M216 108h0M245 108h0M248 108h0M222 108h0M244 108h0M220 108h0M241 108h0M241 108h0M216 108h0M203 108h0M253 108h0M201 108h0M231 108h0M214 108h0M230 108h0M224 108h0M222 108h0M236 108h0M208 108h0M224 108h0M256 108h0M213 113h0M221 113h0M221 113h0M256 113h0M207 113h0M207 113h0M257 113h0M213 113h0M243 113h0M248 117h0M244 117h0M254 117h0M242 117h0M230 117h0M252 117h0M235 121h0M218 121h0M231 121h0M202 121h0M224 121h0M224 121h0M230 121h0M228 130h0M247 130h0M214 130h0M207 130h0M231 130h0M240 130h0M248 130h0M232 55h0M236 52h0M247 59h0M208 52h0M256 58h0M234 56h0M229 54h0M199 51h0M230 58h0M256 53h0M225 55h0M233 53h0M199 57h0M252 54h0M200 57h0M206 55h0M259 55h0M251 54h0M242 55h0M229 54h0M210 58h0M205 54h0M251 57h0M248 60h0M248 58h0M214 54h0M215 56h0M221 59h0M254 58h0M252 57h0M238 53h0M246 56h0M254 59h0M235 58h0M204 58h0M228 54h0M225 54h0M206 55h0M250 61h0M229 54h0M259 52h0M256 55h0M202 54h0M255 59h0M209 61h0M200 59h0M219 59h0M227 57h0M213 58h0M225 56h0M199 60h0M202 58h0M224 59h0M253 61h0M213 55h0M239 55h0M208 58h0M220 57h0M218 56h0M201 58h0M227 59h0M212 59h0M257 57h0M224 58h0M224 58h0M201 61h0M212 54h0M222 62h0M209 57h0M254 58h0M217 60h0M226 52h0M200 59h0M199 56h0M208 57h0M238 52h0M255 61h0M217 62h0M220 58h0M260 61h0M215 56h0M243 59h0M229 60h0M248 55h0M234 58h0M210 57h0M205 59h0M211 58h0M251 57h0M219 55h0M209 56h0M226 61h0M251 61h0M233 55h0M217 63h0M238 59h0M234 61h0M229 55h0M244 62h0M249 53h0M208 55h0M257 59h0M236 57h0M212 52h0M249 55h0M199 58h0M204 58h0M213 59h0M237 57h0M219 59h0M235 59h0M255 63h0M250 58h0M226 60h0M199 58h0M216 57h0M247 55h0M250 61h0M239 59h0M251 62h0M223 55h0M223 54h0M200 59h0M206 55h0M238 57h0M205 57h0M254 56h0M217 59h0M204 58h0M216 53h0M236 57h0M259 64h0M207 57h0M206 59h0M239 61h0M205 59h0M221 56h0M252 58h0M205 59h0M247 59h0M242 56h0M220 60h0M236 60h0M213 57h0M252 63h0M235 54h0M260 57h0M225 65h0M225 59h0M248 60h0M244 59h0M234 61h0M213 59h0M209 59h0M251 57h0M207 57h0M259 62h0M211 56h0M227 59h0M250 60h0M236 58h0M232 57h0M233 64h0M213 56h0M236 60h0M250 63h0M252 58h0M234 63h0M240 61h0M248 64h0M227 58h0M236 62h0M253 59h0M248 58h0M203 63h0M237 66h0M256 59h0M208 57h0M218 63h0M250 63h0M257 63h0M217 57h0M221 62h0M210 62h0M225 59h0M237 64h0M208 63h0M228 63h0M225 63h0M214 56h0M217 64h0M251 64h0M232 58h0M205 62h0M248 60h0M237 59h0M228 66h0M231 62h0M206 58h0M206 60h0M225 60h0M259 55h0M211 62h0M242 60h0M248 58h0M222 64h0M209 59h0M247 68h0M214 58h0M200 59h0M205 64h0M211 60h0M235 68h0M256 61h0M201 59h0M224 59h0M226 63h0M222 61h0M234 64h0M221 58h0M219 65h0M245 65h0M223 65h0M228 62h0M237 59h0M226 58h0M204 59h0M237 58h0M222 63h0M255 59h0M205 55h0M218 66h0M221 58h0M253 69h0M236 62h0M219 64h0M222 61h0M229 64h0M205 60h0M245 65h0M247 59h0M260 58h0M219 63h0M224 60h0M238 62h0M201 62h0M214 61h0M251 60h0M208 60h0M249 61h0M248 58h0M204 63h0M211 63h0M204 59h0M246 65h0M247 59h0M212 67h0M209 66h0M254 63h0M223 59h0M260 67h0M239 66h0M223 63h0M227 67h0M217 61h0M257 66h0M206 62h0M247 64h0M209 63h0M219 61h0M250 62h0M211 63h0M249 67h0M204 69h0M248 60h0M210 65h0M214 63h0M242 66h0M244 59h0M223 65h0M250 61h0M204 57h0M214 63h0M230 65h0M207 65h0M221 69h0M227 63h0M205 67h0M203 61h0M224 63h0M227 62h0M207 63h0M242 61h0M204 57h0M219 63h0M224 63h0M203 65h0M216 68h0M259 61h0M230 57h0M249 58h0M213 64h0M201 62h0M242 67h0M243 66h0M229 64h0M254 65h0M207 64h0M224 67h0M222 64h0M224 61h0M249 58h0M214 63h0M240 63h0M241 68h0M244 65h0M249 64h0M230 65h0M243 71h0M253 63h0M234 69h0M238 63h0M225 62h0M213 69h0M232 67h0M235 61h0M216 61h0M233 69h0M214 61h0M206 68h0M239 62h0M233 69h0M201 61h0M245 68h0M257 61h0M208 63h0M199 64h0M207 68h0M229 65h0M236 68h0M211 65h0M254 70h0M208 59h0M256 68h0M258 69h0M244 71h0M250 72h0M203 64h0M204 64h0M241 68h0M259 61h0M212 69h0M233 70h0M227 65h0M257 68h0M235 67h0M255 72h0M259 68h0M237 68h0M243 66h0M212 65h0M234 69h0M217 62h0M230 65h0M228 68h0M212 65h0M226 61h0M205 69h0M242 68h0M206 59h0M227 69h0M227 69h0M221 69h0M212 68h0M256 65h0M244 65h0M226 69h0M250 63h0M228 68h0M204 59h0M257 64h0M236 66h0M222 69h0M259 71h0M225 70h0M242 69h0M255 68h0M214 62h0M219 66h0M246 69h0M202 59h0M222 72h0M223 69h0M233 68h0M211 69h0M214 63h0M259 71h0M217 65h0M252 65h0M225 70h0M205 66h0M213 68h0M206 65h0M244 69h0M252 63h0M254 67h0M247 69h0M234 70h0M252 70h0M210 72h0M207 69h0M234 66h0M222 72h0M253 70h0M213 66h0M219 65h0M220 68h0M234 70h0M223 66h0M239 71h0M227 71h0M238 65h0M222 71h0M241 71h0M228 71h0M217 68h0M251 66h0M238 72h0M237 66h0M228 68h0M214 68h0M228 69h0M238 71h0M225 71h0M213 68h0M256 69h0M250 70h0M260 73h0M200 68h0M209 68h0M255 68h0M226 71h0M253 69h0M259 69h0M225 70h0M229 72h0M207 72h0M215 69h0M240 68h0M232 70h0M254 70h0M203 71h0M245 72h0M238 72h0M242 68h0M201 68h0M222 68h0M250 73h0M221 72h0M228 69h0M204 67h0M223 69h0M242 71h0M240 70h0M257 72h0M209 73h0M218 64h0M250 69h0M256 69h0M203 66h0M225 66h0M241 70h0M252 70h0M227 65h0M227 69h0M227 71h0M204 68h0M236 72h0M246 68h0M252 71h0M206 71h0M208 71h0M200 71h0M252 73h0M203 71h0M224 72h0M242 71h0M201 68h0M249 71h0M219 69h0M223 68h0M222 71h0M245 73h0M203 73h0M221 68h0M223 70h0M238 72h0M217 73h0M234 70h0M236 73h0M225 73h0M206 72h0M259 69h0M217 70h0M228 73h0M208 70h0M227 70h0M248 72h0M218 71h0M238 71h0M237 69h0M234 69h0M235 72h0M234 71h0M257 72h0M199 73h0M231 74h0M247 78h0M237 79h0M243 80h0M258 83h0M219 88h0M236 90h0M242 90h0M228 101h0M222 123h0M240 123h0M210 138h0M224 141h0M237 148h0M242 156h0M246 160h0M193 56h0M194 59h0M196 53h0M285 40h0M302 40h0M312 40h0M275 40h0M304 40h0M284 40h0M319 40h0M304 40h0M308 40h0M293 40h0M291 40h0M327 40h0M316 40h0M325 40h0M316 40h0M311 40h0M283 40h0M323 40h0M274 40h0M318 40h0M306 40h0M324 40h0M295 40h0M324 40h0M274 40h0M323 40h0M329 40h0M290 40h0M293 40h0M315 40h0M295 40h0M284 40h0M280 40h0M316 40h0M301 40h0M288 40h0M330 40h0M275 40h0M330 40h0M274 40h0M289 40h0M312 40h0M293 40h0M274 40h0M324 40h0M303 40h0M282 40h0M283 40h0M293 40h0M305 40h0M311 40h0M301 40h0M297 40h0M321 40h0M298 40h0M325 40h0M286 40h0M283 40h0M327 40h0M281 40h0M330 40h0M283 40h0M277 40h0M301 40h0M322 40h0M304 40h0M325 40h0M290 40h0M315 40h0M310 40h0M278 40h0M301 40h0M325 40h0M293 40h0M295 40h0M307 40h0M278 40h0M274 40h0M311 40h0M326 40h0M281 40h0M312 40h0M275 40h0M313 40h0M303 40h0M303 40h0M304 40h0M292 40h0M307 40h0M324 40h0M289 40h0M306 40h0M266 40h0M270 40h0M287 44h0M272 44h0M311 44h0M319 44h0M280 44h0M329 45h0M290 44h0M277 44h0M308 44h0M286 45h0M295 45h0M288 44h0M313 44h0M287 44h0M291 44h0M311 44h0M309 44h0M286 45h0M331 45h0M272 45h0M280 45h0M315 45h0M288 45h0M270 45h0M326 45h0M299 45h0M278 45h0M313 45h0M282 45h0M305 45h0M294 45h0M290 45h0M276 45h0M303 45h0M305 45h0M321 45h0M309 45h0M309 45h0M310 45h0M286 45h0M330 45h0M321 45h0M321 45h0M312 45h0M281 45h0M288 45h0M315 45h0M271 46h0M289 45h0M330 45h0M286 46h0M330 46h0M301 46h0M288 46h0M281 46h0M314 46h0M300 46h0M279 46h0M315 46h0M326 46h0M270 46h0M300 46h0M325 46h0M325 46h0M331 46h0M333 46h0M316 46h0M319 46h0M306 46h0M332 46h0M315 46h0M327 46h0M289 46h0M288 46h0M292 46h0M300 46h0M282 46h0M321 46h0M293 46h0M292 46h0M278 46h0M328 46h0M288 46h0M314 46h0M272 46h0M323 46h0M283 46h0M317 46h0M278 47h0M296 47h0M271 47h0M306 47h0M315 47h0M323 47h0M291 47h0M277 47h0M293 47h0M306 47h0M291 47h0M293 47h0M289 47h0M278 47h0M312 47h0M272 47h0M317 47h0M287 47h0M283 47h0M274 47h0M320 47h0M295 47h0M296 47h0M289 47h0M276 47h0M324 47h0M330 47h0M326 47h0M325 47h0M302 47h0M287 47h0M326 47h0M294 47h0M312 47h0M316 47h0M290 47h0M284 47h0M305 47h0M326 47h0M316 47h0M314 47h0M332 47h0M309 47h0M293 47h0M287 47h0M287 47h0M313 47h0M282 47h0M311 47h0M310 47h0M283 47h0M303 47h0M288 47h0M293 47h0M274 48h0M324 47h0M273 48h0M320 48h0M279 48h0M286 48h0M300 48h0M317 48h0M282 48h0M279 48h0M303 48h0M301 48h0M304 48h0M299 48h0M299 48h0M296 48h0M322 48h0M283 48h0M314 48h0M319 48h0M297 48h0M321 48h0M330 48h0M280 48h0M272 48h0M280 48h0M289 48h0M299 48h0M273 48h0M309 48h0M317 48h0M326 48h0M325 48h0M307 48h0M331 48h0M275 48h0M329 48h0M310 48h0M314 49h0M293 49h0M274 49h0M271 49h0M279 49h0M274 49h0M291 49h0M293 49h0M305 49h0M285 49h0M307 49h0M321 49h0M301 49h0M322 49h0M272 49h0M319 49h0M304 49h0M275 49h0M328 49h0M283 49h0M272 49h0M332 49h0M276 49h0M284 49h0M328 49h0M288 49h0M281 49h0M286 49h0M283 49h0M316 49h0M301 49h0M332 49h0M293 49h0M273 49h0M320 50h0M293 50h0M304 50h0M331 50h0M295 50h0M280 50h0M291 50h0M313 50h0M331 50h0M278 50h0M306 50h0M313 50h0M274 50h0M287 50h0M297 50h0M277 51h0M323 50h0M328 50h0M292 50h0M271 50h0M310 51h0M290 51h0M271 51h0M299 51h0M324 51h0M283 51h0M304 51h0M285 51h0M290 51h0M316 51h0M311 51h0M294 51h0M303 51h0M271 51h0M326 51h0M325 51h0M280 51h0M310 51h0M284 51h0M309 51h0M275 51h0M333 51h0M320 51h0M271 51h0M296 51h0M280 51h0M317 51h0M311 51h0M275 51h0M281 51h0M315 51h0M319 52h0M282 52h0M281 52h0M307 52h0M287 52h0M293 52h0M278 52h0M300 52h0M306 52h0M280 52h0M270 52h0M303 52h0M297 52h0M296 52h0M292 52h0M301 52h0M318 52h0M326 52h0M300 52h0M274 52h0M288 52h0M286 52h0M329 52h0M288 52h0M321 52h0M294 52h0M305 52h0M319 52h0M330 52h0M328 52h0M293 52h0M287 52h0M316 52h0M330 52h0M275 52h0M310 52h0M317 52h0M304 52h0M293 53h0M325 53h0M301 52h0M314 52h0M305 52h0M282 52h0M278 52h0M272 52h0M296 52h0M327 53h0M327 53h0M277 53h0M308 53h0M285 53h0M323 53h0M275 53h0M307 53h0M296 53h0M310 53h0M311 53h0M329 53h0M291 53h0M292 53h0M299 53h0M288 53h0M285 53h0M274 53h0M301 53h0M277 53h0M323 53h0M321 53h0M280 53h0M289 53h0M314 53h0M318 53h0M274 53h0M275 53h0M327 53h0M303 53h0M283 53h0M291 54h0M303 53h0M288 53h0M331 53h0M322 53h0M318 53h0M325 53h0M283 53h0M308 54h0M324 53h0M285 53h0M314 53h0M307 53h0M276 53h0M273 54h0M282 54h0M332 54h0M329 54h0M316 54h0M310 54h0M324 54h0M289 54h0M330 54h0M307 54h0M307 54h0M308 54h0M324 54h0M274 54h0M281 54h0M293 54h0M331 54h0M290 54h0M303 54h0M283 54h0M302 54h0M310 54h0M315 54h0M297 54h0M295 54h0M325 54h0M277 54h0M289 54h0M330 54h0M304 54h0M317 54h0M321 54h0M282 54h0M284 54h0M327 55h0M320 54h0M322 54h0M321 55h0M303 54h0M319 54h0M278 54h0M288 55h0M305 55h0M300 55h0M293 55h0M321 55h0M286 55h0M281 55h0M272 55h0M278 55h0M281 55h0M313 55h0M290 55h0M290 55h0M317 55h0M296 55h0M298 55h0M295 55h0M283 55h0M327 55h0M272 55h0M303 55h0M292 55h0M315 55h0M295 55h0M274 55h0M283 55h0M312 55h0M307 55h0M310 55h0M325 55h0M294 55h0M288 55h0M299 55h0M307 55h0M285 55h0M276 55h0M321 55h0M299 55h0M293 55h0M308 55h0M294 56h0M273 55h0M271 55h0M283 55h0M295 55h0M317 56h0M294 55h0M277 55h0M331 55h0M301 56h0M324 55h0M315 55h0M309 56h0M301 56h0M299 56h0M323 56h0M304 56h0M274 56h0M276 56h0M286 56h0M325 56h0M330 56h0M310 56h0M298 56h0M303 56h0M313 56h0M292 56h0M319 56h0M328 56h0M323 56h0M271 56h0M331 56h0M282 56h0M327 56h0M310 56h0M297 56h0M307 56h0M302 56h0M293 56h0M290 56h0M327 57h0M295 57h0M307 57h0M286 57h0M271 57h0M291 57h0M275 58h0M284 58h0M310 58h0M314 59h0M328 58h0M271 60h0M313 58h0M312 58h0M279 58h0M322 58h0M300 58h0M289 61h0M278 58h0M281 61h0M300 58h0M307 61h0M317 59h0M309 58h0M275 58h0M276 61h0M289 58h0M296 58h0M273 58h0M302 58h0M310 59h0M280 58h0M289 59h0M290 59h0M323 61h0M271 59h0M280 59h0M273 59h0M285 59h0M298 59h0M294 59h0M317 59h0M280 59h0M278 61h0M323 62h0M292 59h0M317 59h0M271 59h0M292 60h0M293 60h0M306 60h0M304 59h0M289 59h0M290 58h0M288 59h0M291 59h0M301 59h0M330 59h0M312 59h0M275 58h0M297 60h0M278 59h0M296 59h0M313 59h0M280 59h0M307 61h0M273 61h0M305 59h0M286 60h0M323 59h0M291 61h0M296 59h0M275 60h0M317 61h0M319 58h0M323 60h0M309 60h0M281 60h0M309 60h0M303 60h0M317 58h0M295 63h0M273 60h0M280 60h0M325 60h0M302 58h0M317 60h0M324 63h0M294 64h0M332 61h0M308 65h0M319 60h0M278 60h0M307 60h0M319 58h0M282 60h0M274 59h0M287 59h0M288 60h0M294 58h0M294 61h0M318 60h0M331 60h0M299 60h0M322 60h0M311 61h0M310 61h0M291 59h0M294 63h0M321 61h0M320 61h0M279 61h0M328 60h0M300 63h0M311 65h0M274 64h0M313 61h0M332 61h0M304 61h0M300 61h0M280 58h0M293 62h0M308 59h0M296 61h0M287 66h0M293 62h0M318 61h0M324 59h0M331 62h0M310 61h0M328 61h0M330 63h0M283 60h0M294 62h0M301 62h0M321 59h0M309 59h0M331 60h0M286 68h0M304 68h0M312 61h0M308 61h0M270 60h0M271 59h0M286 61h0M271 61h0M322 59h0M326 68h0M316 61h0M276 61h0M323 62h0M317 62h0M289 63h0M311 61h0M296 63h0M285 66h0M331 64h0M287 63h0M282 66h0M314 64h0M300 62h0M275 65h0M283 65h0M293 62h0M304 64h0M316 62h0M318 63h0M316 63h0M273 63h0M275 62h0M318 62h0M322 62h0M272 62h0M314 59h0M305 62h0M287 65h0M323 64h0M288 61h0M314 63h0M315 61h0M311 66h0M279 63h0M287 61h0M319 63h0M320 68h0M300 61h0M289 64h0M276 63h0M308 66h0M313 63h0M270 63h0M287 63h0M295 63h0M315 61h0M305 63h0M303 63h0M314 61h0M274 63h0M310 63h0M285 63h0M307 64h0M271 65h0M320 66h0M281 66h0M299 65h0M286 64h0M300 66h0M327 64h0M315 63h0M328 65h0M302 62h0M301 60h0M303 64h0M322 64h0M270 64h0M273 69h0M320 64h0M292 63h0M307 63h0M306 63h0M324 69h0M310 63h0M304 64h0M291 64h0M296 69h0M332 64h0M304 67h0M270 65h0M332 66h0M327 64h0M324 66h0M275 66h0M306 63h0M322 63h0M300 64h0M278 65h0M274 63h0M277 63h0M309 65h0M303 65h0M318 62h0M314 64h0M291 65h0M293 64h0M323 68h0M304 64h0M297 67h0M290 61h0M320 70h0M309 65h0M314 62h0M332 65h0M318 67h0M317 63h0M321 65h0M295 67h0M321 65h0M292 62h0M318 63h0M285 66h0M296 65h0M299 62h0M312 65h0M317 68h0M283 63h0M308 68h0M302 62h0M277 65h0M321 64h0M331 66h0M281 66h0M303 63h0M282 68h0M327 68h0M330 71h0M296 68h0M325 64h0M329 70h0M321 65h0M301 68h0M271 67h0M295 64h0M274 64h0M298 66h0M313 67h0M280 66h0M323 66h0M315 70h0M291 68h0M329 66h0M305 65h0M287 66h0M280 66h0M281 66h0M319 66h0M293 69h0M292 70h0M318 68h0M270 64h0M301 67h0M310 69h0M324 67h0M294 68h0M302 69h0M326 68h0M274 67h0M294 70h0M318 67h0M313 68h0M276 64h0M274 67h0M282 69h0M275 67h0M301 67h0M283 66h0M300 67h0M303 68h0M290 68h0M290 64h0M289 68h0M311 64h0M323 67h0M270 68h0M325 69h0M277 72h0M327 68h0M276 68h0M328 67h0M278 68h0M279 67h0M311 68h0M329 68h0M290 69h0M293 71h0M280 71h0M325 68h0M316 68h0M305 66h0M286 65h0M321 67h0M318 69h0M327 68h0M307 68h0M325 70h0M308 66h0M323 63h0M320 63h0M295 65h0M320 70h0M327 65h0M272 69h0M313 69h0M282 71h0M295 66h0M310 73h0M307 68h0M275 69h0M282 69h0M294 69h0M274 72h0M301 69h0M290 74h0M313 67h0M308 69h0M280 69h0M300 69h0M312 70h0M312 67h0M305 68h0M327 69h0M288 68h0M297 69h0M279 69h0M300 69h0M330 70h0M289 69h0M293 69h0M328 69h0M305 69h0M303 66h0M311 71h0M302 70h0M303 70h0M301 74h0M328 73h0M300 67h0M270 70h0M289 71h0M307 70h0M288 68h0M282 73h0M290 71h0M320 70h0M298 70h0M328 69h0M317 66h0M301 68h0M329 70h0M309 70h0M331 70h0M276 70h0M318 70h0M310 70h0M281 69h0M302 71h0M294 71h0M328 70h0M276 69h0M297 67h0M276 71h0M305 71h0M280 71h0M283 71h0M309 72h0M291 73h0M289 73h0M276 72h0M308 71h0M297 71h0M280 72h0M309 72h0M288 71h0M313 74h0M325 70h0M277 71h0M279 71h0M319 72h0M289 71h0M301 73h0M283 72h0M328 69h0M301 71h0M328 71h0M275 74h0M276 73h0M273 74h0M281 70h0M271 72h0M313 74h0M310 69h0M311 72h0M323 72h0M316 72h0M289 73h0M295 72h0M309 70h0M296 71h0M283 72h0M280 73h0M315 74h0M330 72h0M293 71h0M312 66h0M287 72h0M275 73h0M280 73h0M297 72h0M276 72h0M297 73h0M284 71h0M306 73h0M276 71h0M274 74h0M292 71h0M272 72h0M271 73h0M284 79h0M329 77h0M330 74h0M306 72h0M302 70h0M300 75h0M309 73h0M275 71h0M328 73h0M287 73h0M314 68h0M280 73h0M320 78h0M282 76h0M294 76h0M279 79h0M307 73h0M315 73h0M327 68h0M314 73h0M272 73h0M277 71h0M314 71h0M325 73h0M295 74h0M288 74h0M293 72h0M306 73h0M274 75h0M318 72h0M327 74h0M290 74h0M279 78h0M293 71h0M315 74h0M324 73h0M294 77h0M300 75h0M279 73h0M281 74h0M299 74h0M326 81h0M322 73h0M305 75h0M315 72h0M279 75h0M328 75h0M280 79h0M303 75h0M314 75h0M312 74h0M272 74h0M324 76h0M304 75h0M310 74h0M292 74h0M309 74h0M287 72h0M327 75h0M298 77h0M303 76h0M325 74h0M314 78h0M309 79h0M295 76h0M286 72h0M326 77h0M314 76h0M321 78h0M304 76h0M311 77h0M322 75h0M280 77h0M300 74h0M304 78h0M272 76h0M305 77h0M320 78h0M298 76h0M330 73h0M302 77h0M318 79h0M276 73h0M292 76h0M281 79h0M315 77h0M328 75h0M313 79h0M325 73h0M312 77h0M279 77h0M323 77h0M281 77h0M328 77h0M283 77h0M321 77h0M279 78h0M307 80h0M323 78h0M303 80h0M290 77h0M277 78h0M295 77h0M318 77h0M315 77h0M307 77h0M297 77h0M284 76h0M292 78h0M301 73h0M312 77h0M296 80h0M321 79h0M272 76h0M331 78h0M303 78h0M322 79h0M295 78h0M302 77h0M292 78h0M307 74h0M303 80h0M315 78h0M316 78h0M311 73h0M329 78h0M318 82h0M296 78h0M318 78h0M305 78h0M286 76h0M317 77h0M276 76h0M310 79h0M317 76h0M276 79h0M330 82h0M294 80h0M321 76h0M286 79h0M289 81h0M280 78h0M292 79h0M308 78h0M301 77h0M291 78h0M317 79h0M325 81h0M301 79h0M330 82h0M289 80h0M311 80h0M304 83h0M278 76h0M330 79h0M281 80h0M330 80h0M318 80h0M309 80h0M310 79h0M288 84h0M318 81h0M311 78h0M317 78h0M286 81h0M324 81h0M310 80h0M321 78h0M315 82h0M275 78h0M280 76h0M278 79h0M280 78h0M317 83h0M324 80h0M294 80h0M322 81h0M302 83h0M305 80h0M273 78h0M303 83h0M278 83h0M291 81h0M327 84h0M271 83h0M330 86h0M303 80h0M276 77h0M289 82h0M285 79h0M285 81h0M303 79h0M307 81h0M313 81h0M301 81h0M303 84h0M309 81h0M282 81h0M321 77h0M306 81h0M318 81h0M296 81h0M323 79h0M330 81h0M296 81h0M324 82h0M298 81h0M317 80h0M283 78h0M288 80h0M326 83h0M291 80h0M285 82h0M278 82h0M322 83h0M307 83h0M302 80h0M321 82h0M320 82h0M274 83h0M314 82h0M309 82h0M313 81h0M331 80h0M321 81h0M276 79h0M285 82h0M276 86h0M314 83h0M283 83h0M284 83h0M304 82h0M287 83h0M321 86h0M331 83h0M324 83h0M275 83h0M278 83h0M315 83h0M278 86h0M309 79h0M323 79h0M318 83h0M293 79h0M309 83h0M324 83h0M309 83h0M295 83h0M312 87h0M281 83h0M326 86h0M327 84h0M313 83h0M312 84h0M326 84h0M314 82h0M305 80h0M300 84h0M296 84h0M275 89h0M302 86h0M271 82h0M289 84h0M326 82h0M271 84h0M280 84h0M312 84h0M278 84h0M313 84h0M282 85h0M322 86h0M289 86h0M327 86h0M309 84h0M291 85h0M271 88h0M304 85h0M326 85h0M292 87h0M328 85h0M295 84h0M308 87h0M309 86h0M301 86h0M302 86h0M304 86h0M292 84h0M327 85h0M301 90h0M282 86h0M275 84h0M275 88h0M297 88h0M304 84h0M290 84h0M287 86h0M293 84h0M327 84h0M288 85h0M277 86h0M311 85h0M313 86h0M302 83h0M307 83h0M327 90h0M290 86h0M320 86h0M329 84h0M282 86h0M272 84h0M331 86h0M331 84h0M312 86h0M323 84h0M313 89h0M286 86h0M321 86h0M271 87h0M312 83h0M306 86h0M277 86h0M272 86h0M321 84h0M301 87h0M278 87h0M292 89h0M317 87h0M289 89h0M297 91h0M316 90h0M291 86h0M303 86h0M283 86h0M280 86h0M273 87h0M313 90h0M295 89h0M310 86h0M272 81h0M316 87h0M293 87h0M308 86h0M302 86h0M300 88h0M322 88h0M275 84h0M323 90h0M312 88h0M291 88h0M303 88h0M328 86h0M280 87h0M280 90h0M294 89h0M288 89h0M299 86h0M324 90h0M273 89h0M300 87h0M319 92h0M322 88h0M301 94h0M320 89h0M330 89h0M280 92h0M306 90h0M290 92h0M304 91h0M282 91h0M275 92h0M301 90h0M329 92h0M303 88h0M278 90h0M329 86h0M271 88h0M277 90h0M323 90h0M294 89h0M279 94h0M288 90h0M291 90h0M290 92h0M288 94h0M313 90h0M280 87h0M329 88h0M271 90h0M326 92h0M309 91h0M281 90h0M301 91h0M328 92h0M315 91h0M285 91h0M304 89h0M285 88h0M288 93h0M310 93h0M288 89h0M311 92h0M317 91h0M289 97h0M288 93h0M306 94h0M283 93h0M307 89h0M319 91h0M297 93h0M274 92h0M299 94h0M322 94h0M291 92h0M325 92h0M278 92h0M298 92h0M294 94h0M288 95h0M304 94h0M319 93h0M283 91h0M303 91h0M318 93h0M310 92h0M317 94h0M287 93h0M299 93h0M291 94h0M286 94h0M311 93h0M284 94h0M304 92h0M300 99h0M310 90h0M283 98h0M313 94h0M308 94h0M291 94h0M325 94h0M283 95h0M308 97h0M307 97h0M278 97h0M289 99h0M298 93h0M277 95h0M290 95h0M293 96h0M330 100h0M272 98h0M279 98h0M309 100h0M304 92h0M318 100h0M284 97h0M328 97h0M320 94h0M303 94h0M311 92h0M317 100h0M314 96h0M286 96h0M302 98h0M323 98h0M284 98h0M285 97h0M316 98h0M314 98h0M289 97h0M304 99h0M325 97h0M295 99h0M296 98h0M299 103h0M301 100h0M301 99h0M308 100h0M299 99h0M309 101h0M319 99h0M327 100h0M292 100h0M315 98h0M308 104h0M320 100h0M305 100h0M327 98h0M327 100h0M288 101h0M276 97h0M292 100h0M320 102h0M285 103h0M289 100h0M330 103h0M273 101h0M314 102h0M279 102h0M305 106h0M326 100h0M316 105h0M292 102h0M272 104h0M294 102h0M327 105h0M312 105h0M297 101h0M284 102h0M294 105h0M278 105h0M284 102h0M324 105h0M287 108h0M329 106h0M295 104h0M283 106h0M295 103h0M314 106h0M306 111h0M287 105h0M319 106h0M282 105h0M322 108h0M295 107h0M317 110h0M327 108h0M273 105h0M293 106h0M296 108h0M276 107h0M317 104h0M291 109h0M292 108h0M284 107h0M278 108h0M276 111h0M303 106h0M295 109h0M296 110h0M317 109h0M276 105h0M303 109h0M326 106h0M308 108h0M274 105h0M321 109h0M277 108h0M280 106h0M313 111h0M329 113h0M277 108h0M274 110h0M306 110h0M288 111h0M319 111h0M276 110h0M328 113h0M288 112h0M312 112h0M286 112h0M307 113h0M277 113h0M322 115h0M315 115h0M291 114h0M291 113h0M291 114h0M302 114h0M303 112h0M309 114h0M312 114h0M295 116h0M325 114h0M296 115h0M292 116h0M327 114h0M308 115h0M299 116h0M298 113h0M301 117h0M329 121h0M279 114h0M305 115h0M318 116h0M311 117h0M324 121h0M293 120h0M312 120h0M308 118h0M299 118h0M295 120h0M306 120h0M301 121h0M320 122h0M326 123h0M283 127h0M275 123h0M324 122h0M273 121h0M273 126h0M276 123h0M328 121h0M306 121h0M320 127h0M315 128h0M310 126h0M290 124h0M286 127h0M303 126h0M283 121h0M288 127h0M297 126h0M284 129h0M286 133h0M284 133h0M321 130h0M275 132h0M296 133h0M293 133h0M274 133h0M328 138h0M321 139h0M306 142h0M317 140h0M294 143h0M305 145h0M324 145h0M289 147h0M268 46h0M274 49h0M273 49h0M319 49h0M324 50h0M320 50h0M270 50h0M290 52h0M273 52h0M294 52h0M282 53h0M287 53h0M282 56h0M308 56h0M279 56h0M299 57h0M332 57h0M276 61h0M272 64h0M263 64h0M288 65h0M297 65h0M309 66h0M297 69h0M288 71h0M329 72h0M265 73h0M272 76h0M300 77h0M297 78h0M291 78h0M332 81h0M293 84h0M281 85h0M325 87h0M283 88h0M282 88h0M312 89h0M294 96h0M320 101h0M305 102h0M264 103h0M267 108h0M275 114h0M275 114h0M286 116h0M304 116h0M275 121h0" stroke="#7c7c7c" stroke-width="2.4" stroke-linecap="round" fill="none"/><path d="M434 132h0M447 131h0M405 134h0M444 132h0M454 134h0M463 131h0M442 135h0M439 134h0M427 134h0M428 136h0M406 138h0M443 133h0M462 136h0M460 135h0M435 136h0M440 132h0M455 134h0M429 136h0M411 135h0M452 136h0M430 140h0M439 132h0M438 135h0M409 136h0M449 140h0M429 137h0M439 139h0M460 139h0M427 140h0M462 143h0M426 139h0M426 138h0M439 143h0M425 137h0M419 143h0M450 138h0M457 142h0M439 142h0M421 140h0M430 140h0M444 139h0M419 140h0M454 147h0M409 140h0M460 141h0M462 140h0M428 141h0M416 142h0M420 142h0M407 140h0M433 143h0M423 138h0M463 142h0M443 138h0M443 139h0M462 140h0M437 143h0M447 143h0M413 142h0M410 144h0M460 145h0M411 145h0M430 144h0M447 143h0M435 143h0M409 144h0M432 143h0M451 145h0M452 145h0M439 142h0M417 140h0M403 149h0M433 147h0M461 143h0M461 147h0M446 145h0M435 143h0M405 151h0M441 146h0M437 148h0M449 148h0M444 145h0M415 147h0M437 147h0M406 149h0M433 150h0M439 153h0M441 147h0M435 148h0M456 153h0M423 150h0M459 150h0M439 149h0M432 154h0M454 151h0M454 150h0M423 152h0M417 151h0M418 150h0M409 150h0M451 150h0M404 148h0M402 147h0M460 148h0M441 154h0M453 151h0M420 153h0M434 153h0M416 152h0M448 149h0M429 150h0M455 152h0M441 150h0M404 153h0M464 153h0M463 147h0M439 149h0M403 150h0M404 153h0M458 154h0M455 154h0M450 154h0M403 153h0M425 154h0M412 152h0M433 154h0M437 153h0M409 156h0M412 151h0M458 156h0M410 154h0M430 154h0M444 156h0M407 153h0M422 157h0M450 155h0M462 154h0M450 158h0M440 155h0M447 158h0M453 160h0M410 154h0M437 153h0M435 153h0M460 158h0M408 158h0M432 160h0M425 160h0M439 156h0M410 157h0M463 153h0M464 157h0M420 157h0M448 157h0M409 158h0M464 160h0M408 157h0M452 156h0M459 161h0M420 156h0M447 162h0M442 156h0M442 158h0M423 158h0M439 156h0M460 158h0M455 159h0M453 157h0M466 160h0M424 159h0M437 161h0M428 159h0M412 159h0M416 161h0M439 158h0M446 162h0M422 159h0M464 159h0M456 159h0M453 159h0M450 160h0M413 160h0M448 162h0M405 159h0M418 162h0M427 160h0M430 158h0M425 160h0M425 157h0M454 160h0M449 156h0M421 162h0M433 161h0M430 160h0M438 160h0M462 159h0M461 159h0M428 158h0M424 158h0M440 160h0M436 164h0M443 160h0M437 157h0M440 161h0M453 161h0M444 164h0M420 160h0M463 161h0M424 157h0M430 161h0M463 159h0M430 163h0M454 163h0M442 157h0M466 158h0M405 161h0M445 164h0M419 164h0M417 167h0M449 158h0M443 163h0M415 164h0M426 160h0M455 164h0M443 162h0M416 167h0M455 167h0M418 160h0M405 162h0M406 162h0M409 159h0M442 159h0M422 167h0M457 162h0M419 161h0M442 162h0M425 164h0M415 163h0M443 166h0M462 157h0M449 163h0M423 164h0M448 163h0M420 160h0M443 162h0M464 161h0M427 167h0M452 163h0M456 164h0M462 167h0M451 163h0M452 161h0M427 162h0M463 160h0M436 164h0M417 164h0M444 164h0M449 165h0M416 163h0M412 160h0M451 165h0M464 163h0M425 161h0M452 165h0M452 163h0M464 168h0M406 163h0M462 163h0M403 162h0M418 165h0M417 161h0M408 162h0M460 162h0M407 160h0M424 161h0M418 166h0M461 163h0M449 162h0M447 163h0M462 162h0M416 165h0M446 162h0M406 163h0M404 161h0M454 164h0M419 164h0M422 161h0M439 166h0M444 162h0M437 161h0M431 164h0M422 167h0M413 165h0M420 164h0M421 164h0M411 166h0M459 163h0M445 162h0M414 162h0M440 169h0M416 165h0M416 166h0M462 164h0M409 167h0M431 164h0M464 168h0M413 168h0M417 166h0M431 167h0M438 166h0M452 161h0M429 164h0M466 166h0M417 165h0M455 164h0M436 165h0M409 164h0M439 169h0M423 165h0M404 168h0M458 167h0M427 164h0M433 167h0M428 168h0M436 169h0M438 169h0M403 163h0M439 166h0M410 162h0M414 167h0M452 164h0M463 169h0M430 167h0M436 166h0M445 166h0M460 164h0M443 164h0M408 167h0M421 160h0M465 169h0M446 167h0M425 166h0M408 167h0M462 166h0M446 166h0M417 166h0M410 170h0M458 169h0M429 167h0M429 167h0M428 170h0M417 161h0M463 169h0M458 167h0M463 167h0M443 168h0M431 164h0M440 169h0M432 163h0M428 167h0M427 167h0M429 168h0M455 170h0M431 173h0M404 167h0M418 173h0M443 165h0M462 166h0M436 167h0M462 168h0M446 168h0M464 168h0M441 167h0M414 168h0M447 166h0M429 170h0M452 166h0M454 166h0M446 170h0M461 167h0M464 168h0M457 164h0M414 167h0M461 170h0M422 167h0M458 165h0M410 170h0M403 168h0M430 168h0M462 169h0M442 169h0M437 168h0M465 173h0M421 168h0M407 167h0M432 171h0M455 167h0M466 170h0M458 169h0M446 171h0M408 167h0M409 169h0M419 169h0M441 169h0M463 168h0M451 166h0M451 169h0M443 168h0M434 169h0M403 173h0M436 169h0M460 168h0M441 173h0M416 168h0M428 168h0M416 169h0M404 168h0M433 169h0M437 170h0M421 173h0M427 173h0M430 173h0M419 168h0M430 170h0M432 171h0M465 169h0M423 170h0M405 173h0M443 168h0M407 169h0M406 171h0M409 169h0M439 168h0M435 171h0M410 173h0M456 173h0M440 170h0M409 171h0M447 171h0M444 170h0M418 171h0M428 173h0M448 169h0M414 168h0M438 170h0M404 173h0M404 173h0M455 171h0M453 170h0M419 173h0M450 173h0M427 170h0M451 171h0M429 173h0M434 169h0M427 171h0M414 170h0M405 170h0M407 173h0M404 173h0M460 173h0M435 173h0M462 169h0M426 173h0M462 173h0M449 173h0M452 172h0M427 171h0M457 173h0M444 173h0M407 170h0M430 172h0M406 173h0M459 170h0M443 173h0M453 169h0M406 173h0M457 172h0M465 170h0M465 169h0M422 171h0M438 169h0M464 173h0M449 173h0M438 173h0M427 170h0M422 167h0M430 173h0M459 173h0M451 173h0M439 173h0M436 171h0M429 173h0M447 173h0M457 170h0M447 168h0M403 170h0M427 173h0M411 173h0M462 170h0M448 170h0M462 170h0M424 173h0M438 177h0M430 173h0M465 173h0M422 178h0M442 173h0M442 173h0M433 178h0M424 173h0M446 178h0M445 173h0M433 173h0M463 178h0M425 176h0M439 173h0M459 173h0M457 175h0M439 177h0M447 176h0M425 178h0M421 176h0M406 174h0M438 173h0M457 173h0M419 176h0M430 174h0M434 176h0M442 173h0M411 175h0M437 173h0M447 179h0M419 177h0M437 173h0M453 173h0M422 173h0M421 176h0M447 176h0M423 173h0M464 177h0M411 173h0M402 177h0M454 176h0M446 173h0M416 178h0M451 173h0M429 173h0M441 176h0M454 173h0M404 176h0M442 173h0M408 176h0M421 173h0M414 178h0M445 173h0M460 180h0M418 173h0M417 178h0M411 173h0M465 177h0M452 176h0M402 176h0M421 173h0M455 176h0M429 173h0M456 177h0M410 176h0M409 178h0M437 173h0M422 176h0M411 173h0M464 173h0M455 176h0M424 178h0M431 175h0M406 173h0M448 179h0M458 177h0M451 179h0M439 180h0M457 177h0M463 180h0M405 180h0M438 177h0M451 177h0M402 173h0M459 180h0M440 173h0M416 176h0M429 177h0M464 178h0M408 180h0M409 178h0M419 177h0M443 181h0M429 181h0M464 181h0M453 181h0M415 176h0M405 180h0M463 173h0M423 178h0M429 181h0M440 173h0M455 176h0M454 176h0M426 178h0M416 178h0M406 179h0M443 173h0M416 173h0M421 178h0M406 178h0M410 178h0M429 178h0M410 181h0M446 179h0M466 180h0M407 179h0M407 180h0M406 179h0M402 180h0M402 180h0M433 184h0M457 183h0M443 178h0M465 177h0M440 180h0M451 179h0M435 180h0M413 179h0M442 185h0M434 178h0M413 180h0M448 181h0M446 177h0M428 179h0M458 181h0M431 180h0M409 180h0M422 180h0M463 181h0M455 178h0M445 180h0M465 177h0M436 179h0M414 181h0M410 181h0M417 180h0M466 177h0M456 178h0M460 180h0M418 178h0M465 181h0M429 182h0M438 182h0M459 181h0M434 178h0M460 182h0M410 180h0M440 181h0M452 182h0M421 181h0M429 179h0M455 179h0M435 178h0M438 181h0M421 178h0M416 183h0M419 185h0M427 180h0M464 182h0M433 182h0M403 181h0M417 181h0M466 183h0M414 181h0M456 183h0M442 186h0M464 182h0M442 183h0M419 183h0M427 186h0M443 183h0M419 184h0M465 183h0M426 184h0M465 185h0M460 185h0M440 183h0M429 183h0M459 184h0M436 183h0M425 186h0M409 188h0M442 188h0M439 189h0M433 183h0M441 187h0M456 182h0M457 190h0M466 186h0M407 184h0M440 188h0M456 189h0M434 184h0M417 185h0M441 186h0M461 184h0M448 185h0M434 186h0M416 186h0M458 182h0M420 186h0M403 185h0M435 189h0M442 186h0M406 189h0M455 186h0M451 187h0M429 189h0M463 185h0M447 189h0M419 192h0M455 184h0M407 186h0M411 186h0M452 187h0M418 187h0M456 184h0M407 187h0M416 187h0M447 183h0M408 187h0M406 185h0M418 186h0M460 189h0M415 183h0M424 187h0M451 187h0M452 189h0M442 188h0M442 188h0M460 187h0M421 186h0M448 183h0M415 184h0M448 187h0M423 188h0M439 186h0M449 184h0M438 189h0M434 187h0M439 189h0M458 191h0M414 186h0M455 185h0M409 191h0M458 188h0M449 185h0M450 186h0M445 189h0M403 189h0M438 189h0M457 192h0M441 187h0M422 189h0M403 185h0M440 186h0M423 190h0M459 187h0M436 189h0M464 188h0M444 192h0M430 190h0M430 192h0M423 191h0M414 192h0M434 185h0M407 192h0M417 186h0M410 191h0M421 190h0M455 189h0M442 188h0M456 191h0M403 188h0M455 189h0M408 192h0M466 193h0M463 192h0M464 190h0M464 194h0M429 197h0M417 193h0M454 190h0M410 192h0M411 192h0M410 192h0M411 194h0M435 194h0M448 192h0M419 191h0M410 190h0M428 195h0M452 191h0M451 194h0M419 188h0M434 193h0M405 190h0M465 193h0M447 196h0M456 195h0M435 192h0M448 192h0M456 194h0M446 193h0M440 196h0M452 193h0M407 193h0M436 194h0M434 192h0M424 196h0M407 198h0M465 192h0M414 197h0M423 195h0M425 194h0M459 195h0M435 195h0M442 195h0M446 190h0M444 197h0M442 195h0M458 195h0M462 197h0M464 190h0M445 195h0M422 193h0M465 196h0M426 196h0M429 195h0M428 198h0M462 193h0M442 194h0M450 198h0M460 194h0M408 200h0M414 198h0M430 197h0M422 195h0M452 195h0M421 200h0M418 197h0M412 196h0M406 196h0M442 196h0M410 201h0M451 200h0M462 200h0M407 200h0M423 196h0M463 198h0M446 202h0M446 204h0M442 200h0M450 196h0M457 201h0M442 200h0M443 202h0M437 198h0M443 199h0M445 201h0M422 200h0M455 198h0M423 203h0M434 202h0M454 204h0M418 203h0M445 204h0M442 204h0M433 206h0M407 205h0M408 202h0M456 203h0M426 205h0M424 206h0M431 206h0M457 205h0M441 203h0M455 204h0M419 206h0M428 200h0M406 201h0M425 204h0M432 203h0M462 205h0M430 202h0M426 207h0M459 209h0M454 207h0M460 206h0M414 204h0M433 207h0M414 206h0M418 206h0M451 205h0M460 206h0M449 206h0M419 206h0M455 207h0M463 209h0M408 211h0M448 212h0M445 211h0M416 206h0M457 209h0M438 214h0M416 211h0M432 214h0M421 214h0M441 214h0M431 213h0M456 217h0M429 215h0M426 217h0M428 217h0M418 222h0M458 222h0M481 84h0M484 94h0M510 94h0M514 94h0M479 116h0M484 116h0M512 116h0M513 73h0M470 183h0M468 245h0M524 107h0M519 107h0M480 107h0M518 107h0M515 107h0M517 107h0M527 107h0M505 107h0M487 107h0M505 107h0M521 107h0M503 107h0M511 107h0M501 107h0M496 107h0M511 107h0M525 107h0M508 107h0M525 107h0M521 129h0M495 129h0M488 129h0M485 129h0M481 129h0M521 129h0M480 129h0M487 129h0M515 129h0M491 129h0M517 129h0M489 129h0M526 129h0M485 129h0M493 129h0M480 129h0M481 129h0M507 129h0M489 129h0M532 129h0M511 129h0M511 129h0M494 129h0M504 129h0M488 129h0M514 129h0M532 129h0M489 129h0M528 129h0M530 129h0M482 129h0M498 129h0M490 129h0M482 129h0M526 129h0M510 129h0M507 129h0M494 129h0M512 129h0M524 129h0M530 129h0M504 129h0M518 129h0M491 129h0M479 129h0M531 129h0M508 129h0M524 140h0M498 140h0M501 140h0M514 140h0M485 140h0M518 140h0M531 140h0M523 140h0M514 146h0M516 146h0M504 146h0M492 146h0M514 146h0M488 146h0M505 146h0M483 146h0M506 146h0M517 146h0M523 146h0M505 146h0M500 146h0M508 146h0M495 146h0M493 146h0M504 146h0M500 146h0M526 146h0M490 146h0M492 146h0M508 146h0M531 146h0M528 146h0M506 146h0M504 146h0M518 146h0M479 146h0M490 146h0M500 146h0M487 154h0M506 154h0M526 154h0M489 154h0M522 154h0M501 154h0M524 154h0M530 154h0M489 154h0M497 173h0M500 173h0M513 173h0M530 173h0M509 173h0M516 173h0M533 173h0M522 173h0M483 173h0M492 173h0M501 173h0M508 173h0M515 173h0M518 173h0M508 173h0M475 173h0M528 173h0M521 173h0M478 173h0M508 173h0M515 173h0M490 173h0M506 173h0M492 173h0M493 173h0M522 173h0M502 173h0M501 173h0M481 173h0M503 173h0M483 173h0M505 173h0M535 173h0M510 173h0M497 173h0M528 173h0M506 173h0M484 173h0M520 173h0M475 173h0M481 173h0M479 173h0M481 173h0M534 173h0M504 173h0M506 173h0M517 173h0M481 173h0M475 173h0M496 173h0M523 173h0M522 173h0M486 173h0M487 173h0M486 173h0M498 173h0M510 173h0M534 173h0M498 173h0M494 173h0M522 173h0M527 173h0M495 173h0M490 173h0M487 173h0M523 173h0M481 173h0M504 173h0M524 173h0M524 173h0M505 200h0M519 200h0M513 200h0M482 200h0M511 200h0M493 200h0M507 200h0M533 200h0M480 200h0M521 200h0M524 200h0M512 200h0M493 200h0M492 200h0M515 200h0M493 200h0M501 200h0M485 200h0M486 200h0M525 200h0M507 200h0M495 200h0M485 200h0M512 200h0M497 200h0M506 200h0M534 200h0M483 200h0M507 200h0M533 200h0M488 200h0M533 200h0M493 200h0M515 200h0M503 200h0M515 200h0M525 200h0M505 200h0M507 200h0M519 200h0M512 200h0M529 200h0M502 200h0M501 200h0M522 200h0M511 200h0M516 200h0M485 200h0M512 200h0M530 200h0M498 200h0M519 200h0M528 200h0M482 200h0M494 200h0M501 200h0M532 200h0M502 200h0M501 200h0M486 200h0M482 203h0M512 203h0M528 203h0M508 203h0M509 203h0M479 203h0M520 203h0M505 203h0M500 203h0M479 203h0M482 203h0M485 203h0M520 203h0M490 203h0M489 203h0M480 203h0M487 203h0M519 203h0M513 203h0M517 203h0M490 203h0M521 203h0M489 203h0M513 206h0M501 206h0M522 206h0M494 206h0M494 206h0M522 206h0M530 206h0M534 206h0M487 206h0M503 206h0M490 206h0M524 206h0M508 206h0M520 206h0M493 206h0M513 206h0M483 206h0M514 206h0M523 206h0M503 206h0M479 210h0M490 210h0M483 210h0M528 210h0M490 210h0M509 210h0M494 210h0M530 210h0M489 210h0M513 210h0M525 210h0M483 210h0M486 210h0M531 210h0M494 210h0M514 210h0M482 210h0M526 210h0M479 213h0M522 213h0M502 213h0M492 213h0M496 213h0M511 213h0M515 213h0M479 213h0M489 213h0M502 217h0M527 217h0M504 217h0M485 217h0M513 217h0M505 217h0M532 217h0M478 217h0M475 217h0M504 217h0M500 217h0M483 217h0M490 217h0M508 217h0M510 217h0M505 217h0M533 217h0M496 217h0M498 217h0M488 217h0M477 217h0M532 217h0M534 217h0M529 217h0M501 217h0M480 217h0M526 217h0M527 217h0M496 217h0M513 217h0M531 217h0M478 217h0M481 217h0M530 217h0M519 217h0M495 217h0M513 217h0M519 217h0M477 217h0M526 217h0M495 217h0M513 217h0M527 217h0M506 217h0M494 217h0M489 217h0M477 217h0M528 217h0M528 217h0M512 217h0M497 217h0M534 217h0M488 217h0M486 217h0M484 217h0M519 217h0M500 217h0M505 217h0M501 217h0M489 217h0M495 217h0M504 217h0M509 217h0M525 217h0M484 217h0M486 217h0M527 217h0M519 217h0M513 217h0M535 217h0M531 217h0M513 217h0M502 217h0M510 217h0M488 217h0M525 217h0M526 217h0M507 217h0M510 217h0M489 217h0M529 217h0M530 217h0M495 217h0M495 217h0M490 217h0M487 217h0M505 217h0M481 217h0M516 217h0M485 217h0M518 217h0M519 217h0M483 217h0M533 217h0M529 217h0M499 217h0M487 217h0M507 220h0M500 220h0M496 220h0M529 220h0M506 220h0M519 220h0M495 220h0M516 220h0M509 220h0M491 224h0M497 224h0M493 224h0M498 224h0M485 224h0M523 224h0M522 224h0M531 224h0M525 224h0M502 224h0M519 224h0M513 224h0M484 224h0M522 224h0M533 224h0M516 224h0M492 224h0M493 224h0M490 224h0M517 224h0M527 224h0M528 224h0M512 224h0M479 224h0M481 224h0M530 224h0M487 224h0M521 224h0M532 224h0M492 224h0M489 224h0M514 224h0M480 227h0M530 227h0M482 227h0M492 227h0M502 227h0M520 227h0M514 227h0M505 227h0M494 227h0M529 227h0M486 227h0M490 227h0M496 227h0M504 227h0M478 227h0M495 227h0M499 227h0M522 227h0M500 227h0M506 227h0M484 230h0M505 230h0M518 230h0M512 230h0M505 230h0M493 230h0M514 230h0M524 230h0M505 230h0M478 230h0M522 230h0M503 230h0M524 230h0M509 234h0M497 234h0M529 234h0M520 234h0M534 234h0M485 234h0M525 234h0M497 234h0M508 234h0M527 234h0M492 234h0M505 234h0M486 234h0M520 234h0M478 234h0M518 234h0M526 234h0M486 234h0M493 234h0M479 234h0M498 234h0M503 234h0M499 234h0M496 234h0M532 234h0M498 234h0M534 234h0M486 234h0M526 234h0M534 234h0M494 234h0M478 234h0M492 234h0M487 234h0M505 234h0M479 234h0M521 234h0M529 234h0M532 234h0M484 234h0M514 234h0M530 234h0M500 236h0M497 236h0M489 236h0M503 236h0M510 236h0M499 236h0M495 236h0M497 236h0M524 236h0M488 240h0M512 240h0M506 240h0M495 240h0M510 240h0M522 240h0M492 240h0M479 240h0M483 240h0M521 240h0M488 240h0M508 240h0M529 240h0M512 240h0M491 240h0M521 240h0M492 240h0M522 240h0M483 240h0M530 240h0M476 240h0M494 240h0M493 240h0M527 240h0M502 240h0M525 240h0M496 240h0M502 240h0M480 240h0M503 240h0M483 240h0M483 240h0M522 240h0M497 240h0M511 240h0M498 240h0M531 240h0M476 240h0M482 240h0M515 240h0M534 240h0M481 240h0M489 240h0M503 240h0M497 240h0M511 240h0M514 240h0M503 240h0M484 240h0M524 240h0M516 240h0M482 240h0M492 240h0M523 240h0M489 240h0M479 240h0M481 240h0M525 240h0M491 240h0M508 240h0M477 240h0M502 245h0M515 245h0M506 245h0M487 245h0M524 245h0M479 245h0M494 245h0M526 245h0M483 245h0M497 245h0M496 245h0M526 245h0M483 245h0M485 245h0M533 245h0M489 245h0M479 245h0M498 245h0M479 245h0M524 245h0M528 245h0M503 245h0M481 245h0M531 245h0M490 245h0M502 245h0M532 245h0M502 245h0M481 245h0M505 245h0M518 245h0M482 248h0M488 248h0M489 248h0M518 248h0M510 248h0M511 248h0M499 248h0M483 248h0M493 248h0M494 253h0M523 253h0M526 253h0M513 253h0M479 253h0M484 253h0M520 253h0M492 253h0M530 253h0M490 253h0M531 253h0M484 253h0M477 253h0M516 253h0M494 253h0M486 253h0M518 253h0M522 253h0M493 253h0M486 253h0M493 253h0M526 253h0M530 253h0M501 253h0M530 253h0M532 253h0M519 253h0M494 253h0M504 253h0M480 253h0M509 253h0M493 253h0M481 253h0M529 253h0M484 253h0M516 253h0M498 253h0M527 253h0M523 253h0M530 253h0M504 253h0M497 253h0M482 253h0M515 253h0M498 253h0M480 253h0M483 253h0M509 253h0M532 257h0M496 257h0M502 257h0M503 257h0M531 257h0M495 257h0M506 257h0M495 257h0M525 257h0M532 257h0M509 257h0M525 257h0M485 257h0M512 257h0M480 257h0M533 257h0M485 257h0M520 257h0M530 257h0M479 257h0M485 257h0M486 257h0M483 257h0M513 257h0M480 257h0M505 257h0M526 257h0M491 257h0M489 257h0M511 257h0M529 257h0M481 262h0M481 262h0M510 262h0M478 262h0M513 262h0M532 262h0M484 262h0M498 262h0M509 262h0M530 262h0M499 262h0M489 262h0M478 262h0M490 262h0M496 262h0M492 262h0M518 262h0M512 262h0M500 262h0M480 262h0M531 262h0M532 262h0M484 262h0M506 262h0M513 262h0M523 262h0M502 262h0M486 262h0M526 262h0M506 262h0M518 262h0M492 266h0M488 266h0M494 266h0M526 266h0M505 266h0M482 266h0M530 266h0M484 270h0M480 270h0M484 270h0M527 270h0M530 270h0M525 270h0M490 270h0M527 273h0M524 273h0M531 273h0M481 273h0M498 276h0M523 276h0M492 276h0M510 276h0M507 279h0M504 279h0M505 279h0M508 279h0M504 282h0M505 282h0M501 282h0M490 285h0M511 305h0M513 305h0M517 305h0M512 305h0M500 305h0M532 305h0M528 305h0M510 305h0M484 305h0M484 305h0M521 305h0M490 305h0M523 305h0M515 305h0M525 305h0M525 305h0M507 305h0M506 305h0M490 305h0M484 305h0M504 305h0M529 305h0M495 305h0M522 305h0M490 305h0M478 305h0M502 305h0M484 305h0M520 305h0M514 305h0M526 305h0M522 305h0M514 305h0M521 305h0M492 305h0M500 305h0M494 305h0M508 305h0M509 305h0M492 305h0M512 305h0M525 305h0M488 305h0M507 305h0M506 305h0M485 305h0M528 305h0M516 305h0M502 305h0M494 305h0M494 305h0M530 305h0M498 305h0M499 305h0M523 305h0M502 305h0M521 305h0M480 305h0M531 305h0M529 305h0M503 305h0M516 305h0M485 305h0M505 305h0M481 305h0M520 305h0M496 151h0M522 153h0M521 154h0M493 156h0M521 155h0M527 156h0M529 156h0M475 157h0M531 157h0M487 156h0M490 158h0M528 158h0M536 158h0M507 157h0M513 159h0M504 159h0M529 159h0M526 160h0M524 158h0M501 160h0M497 161h0M530 159h0M520 162h0M486 164h0M484 162h0M517 164h0M490 163h0M475 164h0M533 166h0M474 165h0M520 164h0M477 163h0M475 164h0M496 165h0M535 164h0M503 164h0M499 164h0M535 163h0M504 164h0M476 165h0M474 164h0M482 165h0M500 165h0M490 168h0M508 165h0M479 166h0M502 166h0M526 167h0M491 166h0M483 166h0M532 167h0M515 167h0M514 165h0M494 164h0M530 168h0M477 168h0M532 169h0M502 169h0M490 169h0M497 169h0M490 170h0M514 169h0M527 170h0M523 170h0M528 169h0M496 170h0M509 169h0M501 170h0M525 171h0M491 171h0M486 171h0M478 173h0M523 171h0M515 171h0M478 171h0M497 171h0M537 171h0M498 173h0M536 172h0M498 175h0M528 175h0M515 173h0M513 175h0M500 176h0M512 176h0M530 177h0M495 176h0M520 177h0M489 176h0M499 177h0M476 176h0M501 177h0M527 178h0M497 179h0M506 177h0M513 179h0M531 177h0M526 177h0M524 177h0M482 176h0M487 175h0M498 177h0M516 177h0M522 177h0M484 177h0M476 178h0M532 178h0M528 178h0M497 178h0M515 179h0M502 179h0M512 181h0M496 176h0M519 180h0M508 178h0M507 177h0M502 178h0M483 178h0M507 180h0M492 179h0M494 179h0M533 179h0M487 179h0M483 179h0M521 179h0M511 178h0M535 179h0M526 181h0M488 177h0M530 179h0M498 179h0M531 179h0M489 179h0M477 180h0M486 179h0M527 179h0M486 179h0M479 180h0M537 178h0M510 179h0M537 178h0M486 180h0M496 181h0M496 180h0M506 183h0M519 181h0M489 181h0M522 180h0M495 182h0M511 177h0M500 180h0M476 180h0M530 180h0M484 179h0M489 181h0M500 182h0M510 183h0M488 181h0M503 181h0M532 181h0M491 181h0M515 181h0M521 181h0M496 181h0M490 182h0M495 180h0M489 181h0M519 181h0M532 181h0M512 181h0M533 180h0M482 181h0M495 181h0M503 184h0M507 184h0M488 182h0M516 182h0M510 182h0M474 182h0M523 182h0M478 183h0M488 182h0M519 182h0M518 183h0M492 180h0M479 184h0M480 181h0M477 183h0M529 180h0M496 185h0M514 183h0M506 183h0M485 182h0M510 183h0M491 183h0M496 183h0M527 183h0M516 183h0M491 183h0M508 181h0M513 183h0M508 184h0M485 180h0M495 185h0M516 183h0M520 183h0M531 185h0M483 181h0M500 183h0M534 183h0M491 183h0M487 184h0M503 183h0M512 183h0M478 183h0M486 185h0M477 183h0M494 183h0M510 183h0M480 183h0M489 184h0M518 185h0M478 185h0M514 183h0M493 184h0M482 186h0M484 186h0M530 183h0M488 184h0M521 184h0M528 184h0M490 184h0M517 184h0M507 184h0M489 186h0M519 184h0M515 185h0M516 186h0M482 184h0M493 184h0M533 185h0M522 182h0M535 185h0M481 185h0M507 186h0M528 187h0M498 183h0M536 186h0M503 185h0M526 186h0M533 185h0M501 185h0M497 185h0M502 184h0M516 187h0M532 186h0M510 185h0M497 184h0M528 185h0M531 187h0M505 188h0M505 184h0M518 186h0M485 185h0M509 185h0M476 186h0M487 186h0M532 185h0M520 186h0M510 187h0M485 185h0M503 187h0M515 186h0M523 185h0M521 186h0M484 185h0M482 186h0M533 186h0M495 186h0M515 189h0M477 186h0M537 187h0M509 187h0M479 187h0M518 187h0M499 187h0M505 187h0M485 188h0M526 187h0M517 185h0M491 185h0M506 187h0M527 187h0M530 187h0M514 187h0M490 187h0M507 187h0M507 187h0M497 186h0M524 188h0M497 185h0M487 189h0M535 188h0M500 188h0M521 187h0M501 188h0M501 190h0M484 186h0M498 186h0M489 190h0M477 186h0M527 188h0M537 188h0M532 188h0M475 186h0M511 188h0M494 188h0M506 188h0M505 190h0M486 189h0M533 189h0M518 189h0M488 189h0M529 189h0M497 189h0M487 191h0M509 189h0M490 187h0M476 189h0M477 189h0M483 190h0M475 189h0M496 190h0M504 189h0M525 188h0M521 189h0M532 190h0M529 188h0M514 189h0M478 192h0M499 193h0M519 189h0M498 189h0M535 191h0M486 188h0M517 190h0M480 190h0M507 190h0M515 190h0M491 190h0M526 190h0M484 190h0M490 191h0M503 190h0M526 190h0M490 190h0M535 190h0M525 191h0M521 192h0M501 190h0M476 191h0M531 190h0M475 192h0M475 191h0M499 191h0M518 191h0M474 192h0M496 189h0M501 191h0M477 193h0M514 191h0M477 191h0M500 188h0M535 191h0M528 189h0M517 191h0M523 191h0M487 191h0M513 191h0M490 191h0M499 191h0M484 194h0M483 192h0M476 191h0M521 191h0M503 191h0M479 191h0M523 191h0M521 194h0M531 191h0M499 192h0M530 192h0M511 192h0M485 190h0M499 192h0M519 189h0M528 192h0M534 192h0M492 192h0M495 191h0M495 192h0M500 194h0M486 191h0M505 192h0M529 192h0M500 193h0M510 194h0M476 192h0M474 189h0M493 191h0M482 192h0M495 192h0M513 195h0M509 189h0M532 194h0M483 192h0M483 193h0M526 192h0M526 193h0M512 191h0M531 190h0M510 194h0M475 195h0M497 192h0M517 194h0M495 193h0M477 194h0M484 193h0M476 195h0M476 194h0M499 193h0M490 194h0M497 193h0M489 193h0M494 193h0M483 193h0M515 193h0M515 197h0M483 193h0M494 194h0M537 193h0M495 194h0M505 194h0M501 194h0M515 194h0M477 194h0M537 194h0M530 191h0M526 192h0M522 193h0M505 194h0M537 194h0M501 194h0M527 192h0M477 198h0M516 196h0M526 195h0M527 194h0M515 194h0M491 194h0M494 195h0M504 194h0M484 196h0M504 194h0M481 196h0M536 193h0M514 197h0M522 194h0M501 194h0M481 195h0M521 194h0M481 195h0M484 192h0M500 194h0M505 195h0M526 191h0M521 195h0M514 196h0M489 196h0M514 194h0M519 196h0M518 196h0M526 195h0M517 193h0M480 194h0M481 195h0M485 197h0M530 195h0M528 195h0M526 195h0M486 194h0M494 196h0M501 196h0M475 200h0M480 194h0M516 193h0M483 198h0M521 196h0M496 197h0M477 196h0M490 196h0M484 196h0M531 194h0M514 198h0M511 196h0M500 196h0M503 199h0M508 194h0M507 196h0M515 196h0M521 195h0M505 196h0M484 196h0M476 196h0M518 197h0M511 197h0M493 197h0M487 197h0M519 197h0M505 197h0M474 194h0M509 195h0M477 195h0M528 197h0M510 195h0M529 197h0M483 197h0M524 196h0M520 197h0M514 196h0M475 197h0M497 197h0M521 198h0M490 197h0M520 194h0M498 197h0M486 197h0M524 198h0M479 199h0M494 198h0M482 198h0M502 198h0M528 198h0M476 197h0M518 198h0M528 198h0M536 201h0M536 198h0M480 198h0M499 197h0M501 198h0M477 199h0M475 198h0M513 199h0M509 199h0M495 195h0M489 201h0M513 200h0M474 200h0M501 198h0M516 200h0M478 198h0M504 199h0M524 199h0M519 198h0M537 200h0M498 199h0M479 199h0M534 200h0M532 197h0M474 200h0M491 201h0M488 199h0M476 200h0M510 200h0M502 202h0M504 202h0M527 202h0M513 202h0M490 203h0M517 203h0M497 203h0M515 203h0M519 204h0M520 204h0M479 204h0M515 205h0M506 205h0M480 206h0M508 207h0M504 207h0M501 207h0M518 208h0M522 208h0M527 208h0M505 208h0M498 208h0M522 208h0M493 208h0M491 209h0M529 210h0M510 210h0M508 210h0M524 211h0M491 212h0M506 211h0M494 212h0M488 212h0M520 212h0M494 212h0M527 213h0M490 214h0M498 214h0M480 214h0M525 215h0M512 215h0M514 216h0M479 216h0M487 217h0M490 217h0M499 218h0M492 218h0M501 218h0M528 219h0M533 220h0M487 220h0M492 222h0M525 222h0M482 223h0M491 224h0M530 228h0M522 228h0M495 229h0M498 229h0M495 229h0M487 231h0M479 232h0M498 232h0M489 232h0M500 233h0M479 233h0M522 235h0M505 235h0M505 235h0M490 237h0M516 239h0M527 239h0M497 240h0M478 241h0M524 241h0M492 241h0M514 242h0M487 242h0M481 242h0M523 243h0M493 245h0M511 245h0M501 246h0M516 248h0M522 248h0M489 249h0M493 250h0M486 251h0M528 251h0M531 251h0M489 251h0M496 252h0M497 252h0M495 253h0M487 254h0M518 254h0M481 256h0M523 256h0M499 256h0M498 258h0M492 259h0M481 259h0M511 260h0M523 260h0M518 261h0M501 262h0M518 263h0M502 263h0M509 264h0M514 264h0M481 264h0M493 265h0M531 265h0M514 265h0M483 266h0M506 269h0M533 270h0M515 271h0M517 272h0M518 273h0M496 274h0M508 275h0M517 276h0M485 277h0M519 278h0M508 282h0M490 282h0M507 283h0M520 289h0M591 71h0M584 69h0M561 73h0M555 71h0M548 72h0M561 72h0M591 79h0M586 83h0M566 85h0M554 85h0M595 86h0M579 87h0M549 91h0M560 90h0M578 92h0M565 94h0M567 91h0M596 92h0M550 95h0M585 92h0M566 96h0M584 91h0M577 95h0M570 96h0M579 99h0M547 102h0M565 97h0M567 98h0M595 94h0M574 96h0M550 96h0M570 104h0M605 101h0M554 101h0M595 101h0M549 100h0M607 101h0M548 102h0M602 104h0M570 103h0M581 105h0M565 103h0M561 101h0M560 101h0M560 101h0M558 104h0M594 104h0M592 104h0M590 101h0M572 104h0M602 105h0M560 102h0M590 103h0M569 104h0M600 105h0M556 103h0M555 103h0M598 105h0M583 103h0M582 105h0M592 107h0M550 107h0M571 105h0M560 102h0M603 105h0M600 105h0M577 104h0M567 104h0M569 107h0M552 107h0M577 107h0M576 104h0M555 105h0M607 106h0M570 106h0M553 106h0M557 104h0M552 105h0M557 104h0M573 106h0M565 107h0M598 108h0M562 106h0M558 105h0M588 107h0M575 110h0M589 107h0M603 104h0M605 105h0M592 107h0M592 107h0M581 109h0M589 108h0M568 105h0M550 107h0M572 109h0M574 104h0M592 107h0M566 107h0M548 109h0M563 107h0M549 108h0M571 109h0M549 107h0M577 111h0M599 110h0M598 110h0M582 108h0M585 107h0M580 107h0M568 109h0M554 108h0M555 105h0M604 107h0M600 109h0M551 111h0M590 109h0M596 107h0M555 107h0M548 111h0M607 109h0M602 109h0M554 109h0M588 108h0M551 113h0M590 109h0M592 107h0M575 111h0M595 111h0M556 108h0M606 107h0M556 109h0M567 105h0M605 109h0M557 109h0M569 111h0M547 113h0M546 114h0M593 107h0M592 109h0M575 110h0M608 112h0M608 112h0M585 107h0M579 110h0M601 111h0M588 109h0M570 104h0M606 110h0M567 109h0M563 110h0M558 112h0M550 110h0M598 111h0M548 110h0M564 116h0M558 110h0M557 112h0M602 110h0M579 111h0M562 110h0M546 111h0M566 109h0M560 111h0M587 111h0M560 111h0M599 113h0M568 111h0M549 116h0M568 113h0M577 109h0M565 111h0M599 111h0M579 111h0M551 112h0M556 110h0M577 108h0M590 115h0M549 109h0M554 111h0M605 109h0M570 115h0M564 110h0M564 107h0M557 110h0M577 114h0M578 109h0M607 111h0M593 111h0M563 110h0M570 113h0M607 114h0M571 111h0M598 112h0M581 111h0M581 114h0M598 111h0M552 109h0M570 112h0M582 107h0M558 114h0M554 114h0M580 114h0M579 116h0M559 107h0M601 111h0M568 110h0M556 114h0M585 112h0M576 112h0M570 107h0M564 112h0M563 113h0M568 109h0M547 112h0M567 111h0M549 113h0M560 113h0M602 115h0M570 110h0M557 116h0M551 113h0M551 113h0M577 115h0M596 115h0M550 115h0M608 112h0M593 114h0M603 111h0M565 113h0M548 115h0M563 112h0M550 112h0M554 111h0M567 111h0M582 116h0M561 113h0M550 114h0M552 112h0M588 120h0M588 118h0M562 111h0M603 115h0M584 120h0M583 114h0M563 114h0M567 114h0M577 116h0M579 111h0M550 116h0M586 115h0M599 119h0M590 117h0M574 113h0M575 115h0M605 120h0M561 118h0M555 115h0M596 113h0M557 115h0M578 116h0M590 114h0M606 118h0M599 115h0M567 111h0M589 120h0M599 118h0M595 114h0M565 115h0M604 112h0M574 114h0M558 114h0M602 116h0M572 114h0M590 113h0M555 115h0M571 116h0M564 116h0M579 112h0M561 117h0M571 119h0M577 115h0M551 117h0M571 117h0M565 116h0M598 117h0M557 114h0M600 113h0M563 115h0M567 120h0M564 117h0M569 118h0M574 118h0M569 115h0M571 117h0M577 118h0M581 113h0M557 117h0M565 115h0M607 119h0M589 113h0M599 118h0M565 116h0M596 118h0M572 114h0M557 118h0M596 116h0M560 118h0M553 117h0M595 116h0M592 117h0M575 115h0M600 114h0M558 117h0M598 115h0M573 115h0M584 116h0M588 116h0M599 118h0M593 113h0M604 120h0M558 117h0M583 113h0M608 118h0M550 118h0M547 120h0M606 116h0M579 120h0M607 119h0M561 114h0M583 115h0M585 114h0M595 118h0M550 120h0M606 116h0M570 120h0M592 115h0M587 118h0M547 118h0M595 115h0M564 118h0M596 120h0M550 121h0M596 116h0M556 115h0M589 116h0M579 115h0M591 119h0M548 116h0M570 118h0M593 114h0M603 118h0M568 118h0M590 115h0M599 119h0M569 116h0M555 121h0M578 118h0M580 118h0M548 118h0M548 121h0M570 120h0M568 119h0M551 116h0M605 119h0M568 122h0M551 118h0M575 119h0M550 116h0M552 117h0M561 117h0M573 119h0M589 119h0M586 117h0M594 119h0M603 119h0M578 119h0M568 119h0M547 117h0M573 119h0M603 122h0M568 119h0M602 117h0M603 119h0M578 119h0M585 121h0M573 120h0M585 123h0M565 122h0M574 118h0M581 121h0M556 120h0M580 116h0M573 123h0M594 122h0M596 118h0M605 121h0M570 123h0M560 119h0M577 121h0M563 118h0M567 120h0M582 118h0M550 121h0M602 120h0M589 118h0M565 118h0M599 117h0M576 122h0M547 117h0M565 119h0M566 120h0M573 118h0M588 122h0M573 120h0M548 122h0M592 120h0M605 120h0M601 119h0M563 120h0M594 123h0M581 121h0M570 120h0M581 119h0M607 120h0M568 118h0M564 118h0M589 120h0M567 121h0M558 121h0M578 117h0M565 118h0M607 121h0M587 120h0M589 125h0M581 120h0M586 121h0M559 122h0M593 120h0M556 126h0M581 121h0M547 122h0M579 124h0M576 121h0M568 118h0M595 123h0M590 122h0M556 121h0M572 122h0M573 124h0M574 119h0M570 120h0M556 124h0M589 122h0M552 121h0M557 122h0M589 119h0M559 124h0M582 121h0M554 122h0M592 122h0M578 122h0M594 125h0M590 120h0M572 125h0M558 121h0M590 123h0M567 123h0M586 123h0M583 123h0M604 122h0M553 123h0M590 123h0M578 122h0M555 123h0M575 125h0M581 121h0M571 123h0M562 122h0M586 125h0M560 126h0M569 125h0M568 124h0M572 125h0M548 125h0M578 122h0M560 120h0M587 124h0M557 123h0M577 125h0M558 124h0M591 122h0M586 126h0M558 123h0M588 124h0M582 122h0M581 126h0M587 123h0M590 123h0M603 121h0M592 124h0M605 123h0M582 125h0M560 125h0M580 123h0M560 125h0M595 126h0M582 125h0M564 125h0M587 126h0M565 124h0M579 125h0M600 125h0M552 125h0M557 125h0M601 125h0M557 125h0M590 125h0M561 125h0M599 125h0M569 125h0M596 125h0M606 125h0M565 125h0M559 125h0M556 125h0M585 125h0M555 125h0M570 125h0M586 125h0M552 125h0M600 125h0M590 125h0M574 125h0M600 125h0M568 125h0M597 125h0M578 125h0M576 125h0M556 125h0M550 125h0M603 125h0M594 125h0M581 125h0M564 125h0M551 125h0M555 125h0M604 125h0M591 125h0M567 125h0M591 125h0M562 125h0M553 125h0M587 128h0M583 128h0M569 128h0M594 128h0M586 128h0M602 128h0M593 128h0M588 128h0M570 128h0M567 128h0M600 128h0M592 128h0M557 128h0M594 128h0M591 128h0M574 128h0M594 128h0M571 128h0M550 128h0M552 128h0M587 128h0M566 128h0M577 128h0M563 128h0M573 128h0M556 128h0M549 128h0M600 128h0M583 128h0M587 128h0M591 128h0M575 128h0M603 128h0M553 128h0M604 128h0M604 128h0M549 128h0M564 128h0M586 128h0M576 128h0M588 128h0M578 128h0M606 131h0M586 131h0M553 131h0M552 131h0M593 131h0M561 131h0M599 131h0M596 131h0M600 131h0M550 131h0M561 131h0M564 131h0M581 131h0M601 131h0M567 131h0M604 131h0M575 131h0M595 131h0M595 131h0M552 131h0M557 131h0M605 131h0M551 131h0M589 131h0M569 131h0M588 131h0M585 131h0M568 131h0M573 131h0M553 131h0M594 131h0M597 131h0M573 131h0M589 131h0M566 131h0M567 131h0M564 131h0M581 131h0M591 131h0M570 131h0M568 131h0M554 131h0M603 134h0M549 134h0M579 134h0M596 134h0M576 134h0M571 134h0M591 134h0M549 134h0M564 134h0M571 134h0M574 134h0M563 134h0M560 134h0M588 134h0M587 134h0M560 134h0M572 134h0M568 134h0M573 134h0M594 134h0M606 134h0M584 134h0M567 134h0M590 134h0M578 134h0M565 134h0M555 134h0M549 134h0M551 134h0M580 134h0M597 134h0M580 134h0M558 134h0M574 134h0M590 134h0M582 134h0M581 134h0M600 134h0M577 134h0M570 134h0M593 134h0M587 134h0M591 137h0M603 137h0M604 137h0M591 137h0M606 137h0M563 137h0M593 137h0M595 137h0M590 137h0M566 137h0M599 137h0M576 137h0M576 137h0M559 137h0M564 137h0M592 137h0M600 137h0M595 137h0M571 137h0M592 137h0M606 137h0M555 137h0M584 137h0M552 137h0M599 137h0M575 137h0M596 137h0M575 137h0M560 137h0M560 137h0M582 137h0M551 137h0M604 137h0M595 137h0M550 137h0M598 137h0M580 137h0M602 137h0M568 137h0M568 137h0M605 137h0M566 137h0M560 140h0M582 140h0M586 140h0M602 140h0M550 140h0M555 140h0M605 140h0M602 140h0M589 140h0M554 140h0M560 140h0M573 140h0M549 140h0M563 140h0M564 140h0M577 140h0M581 140h0M570 140h0M585 140h0M551 140h0M569 140h0M581 140h0M603 140h0M580 140h0M574 140h0M582 140h0M585 140h0M604 140h0M580 140h0M552 140h0M569 140h0M604 140h0M568 140h0M594 140h0M552 140h0M586 140h0M592 140h0M601 140h0M601 140h0M561 140h0M570 140h0M563 140h0M603 143h0M604 143h0M575 143h0M578 143h0M600 143h0M605 143h0M582 143h0M571 143h0M587 143h0M565 143h0M550 143h0M562 143h0M565 143h0M559 143h0M606 143h0M569 143h0M552 143h0M569 143h0M560 143h0M606 143h0M560 143h0M559 143h0M572 143h0M554 143h0M593 143h0M590 143h0M586 143h0M572 143h0M597 143h0M550 143h0M604 143h0M589 143h0M586 143h0M556 143h0M563 143h0M600 143h0M565 143h0M586 143h0M572 143h0M581 143h0M573 143h0M605 143h0M594 146h0M604 146h0M562 146h0M603 146h0M572 146h0M578 146h0M586 146h0M595 146h0M583 146h0M599 146h0M591 146h0M569 146h0M554 146h0M556 146h0M569 146h0M566 146h0M549 146h0M587 146h0M594 146h0M596 146h0M552 146h0M585 146h0M555 146h0M592 146h0M573 146h0M596 146h0M574 146h0M601 146h0M566 146h0M558 146h0M552 146h0M573 146h0M577 146h0M575 146h0M582 146h0M571 146h0M592 146h0M604 146h0M599 146h0M550 146h0M600 146h0M575 146h0M550 150h0M601 150h0M586 150h0M571 150h0M552 150h0M572 150h0M598 150h0M573 150h0M584 150h0M588 150h0M604 150h0M604 150h0M550 150h0M584 150h0M587 150h0M565 150h0M582 150h0M586 150h0M602 150h0M557 150h0M552 150h0M593 150h0M570 150h0M598 150h0M602 150h0M605 150h0M554 150h0M566 150h0M549 150h0M599 150h0M549 150h0M605 150h0M570 150h0M586 150h0M589 150h0M606 150h0M560 150h0M560 150h0M602 150h0M564 150h0M577 150h0M558 150h0M606 153h0M552 153h0M564 153h0M557 153h0M563 153h0M560 153h0M599 153h0M594 153h0M559 153h0M563 153h0M550 153h0M588 153h0M605 153h0M573 153h0M566 153h0M558 153h0M592 153h0M571 153h0M577 153h0M592 153h0M584 153h0M579 153h0M582 153h0M557 153h0M577 153h0M569 153h0M606 153h0M595 153h0M594 153h0M567 153h0M582 153h0M602 153h0M579 153h0M554 153h0M599 153h0M578 153h0M587 153h0M557 153h0M602 153h0M606 153h0M579 153h0M588 153h0M565 156h0M561 156h0M591 156h0M593 156h0M573 156h0M587 156h0M590 156h0M578 156h0M573 156h0M592 156h0M588 156h0M558 156h0M599 156h0M561 156h0M549 156h0M565 156h0M552 156h0M575 156h0M557 156h0M604 156h0M583 156h0M602 156h0M551 156h0M600 156h0M593 156h0M601 156h0M601 156h0M554 156h0M584 156h0M561 156h0M555 156h0M594 156h0M591 156h0M594 156h0M569 156h0M558 156h0M553 156h0M557 156h0M590 156h0M586 156h0M603 156h0M571 156h0M554 160h0M566 160h0M603 160h0M589 160h0M594 160h0M574 160h0M574 160h0M571 160h0M600 160h0M563 160h0M551 160h0M561 160h0M560 160h0M566 160h0M601 160h0M551 160h0M567 160h0M600 160h0M605 160h0M549 160h0M602 160h0M561 160h0M598 160h0M584 160h0M579 160h0M590 160h0M553 160h0M550 160h0M580 160h0M593 160h0M595 160h0M605 160h0M555 160h0M586 160h0M601 160h0M589 160h0M561 160h0M549 160h0M549 160h0M588 160h0M573 160h0M551 160h0M567 163h0M595 163h0M583 163h0M557 163h0M550 163h0M549 163h0M559 163h0M583 163h0M601 163h0M579 163h0M556 163h0M559 163h0M587 163h0M587 163h0M562 163h0M595 163h0M595 163h0M581 163h0M551 163h0M568 163h0M573 163h0M598 163h0M590 163h0M551 163h0M583 163h0M570 163h0M570 163h0M578 163h0M570 163h0M599 163h0M587 163h0M599 163h0M589 163h0M591 163h0M595 163h0M573 163h0M602 163h0M582 163h0M606 163h0M581 163h0M591 163h0M585 163h0M570 166h0M599 166h0M591 166h0M593 166h0M587 166h0M569 166h0M558 166h0M584 166h0M577 166h0M575 166h0M604 166h0M593 166h0M552 166h0M554 166h0M567 166h0M591 166h0M583 166h0M578 166h0M600 166h0M583 166h0M590 166h0M572 166h0M555 166h0M574 166h0M575 166h0M553 166h0M602 166h0M561 166h0M556 166h0M569 166h0M598 166h0M549 166h0M552 166h0M592 166h0M560 166h0M577 166h0M601 166h0M556 166h0M583 166h0M584 166h0M584 166h0M575 166h0M607 125h0M585 126h0M555 126h0M586 126h0M585 126h0M564 126h0M596 126h0M583 126h0M551 127h0M592 127h0M568 127h0M549 127h0M573 127h0M586 128h0M596 128h0M578 128h0M551 129h0M599 129h0M575 128h0M563 129h0M554 129h0M599 129h0M597 130h0M600 130h0M580 130h0M591 130h0M596 130h0M591 130h0M549 130h0M548 131h0M553 131h0M583 131h0M568 131h0M596 132h0M562 132h0M574 132h0M590 132h0M563 133h0M576 133h0M601 134h0M549 134h0M553 134h0M586 135h0M602 135h0M606 135h0M599 136h0M589 136h0M557 136h0M577 136h0M593 136h0M591 136h0M561 136h0M602 137h0M581 137h0M588 137h0M552 137h0M563 137h0M574 137h0M554 137h0M573 137h0M607 137h0M590 138h0M555 138h0M552 138h0M577 138h0M580 139h0M586 139h0M600 139h0M553 139h0M591 139h0M604 140h0M558 140h0M603 140h0M556 140h0M593 140h0M599 141h0M573 140h0M598 141h0M580 141h0M561 141h0M585 141h0M596 141h0M604 141h0M585 141h0M550 142h0M575 142h0M560 143h0M575 143h0M569 143h0M573 143h0M580 143h0M551 144h0M589 144h0M591 144h0M583 144h0M577 144h0M585 145h0M566 145h0M596 146h0M569 146h0M568 146h0M595 146h0M557 147h0M580 147h0M554 147h0M553 147h0M589 147h0M601 147h0M553 148h0M555 148h0M562 148h0M575 149h0M590 149h0M594 149h0M603 149h0M556 149h0M605 150h0M592 150h0M592 150h0M549 150h0M556 150h0M572 150h0M603 151h0M554 151h0M569 151h0M594 151h0M553 152h0M564 152h0M569 152h0M559 152h0M557 152h0M572 153h0M596 153h0M550 153h0M550 153h0M576 154h0M550 154h0M553 154h0M594 154h0M582 154h0M561 154h0M577 154h0M586 154h0M559 155h0M566 155h0M574 156h0M576 156h0M555 156h0M594 156h0M591 156h0M596 157h0M573 157h0M596 157h0M601 157h0M573 157h0M565 158h0M560 158h0M565 158h0M576 159h0M582 159h0M549 159h0M596 159h0M603 159h0M588 160h0M604 160h0M581 161h0M589 163h0M593 163h0M580 163h0M558 163h0M559 163h0M558 163h0M579 164h0M577 164h0M562 164h0M601 164h0M583 164h0M599 165h0M548 166h0M589 167h0M601 168h0M564 169h0M553 169h0M567 171h0M584 171h0M571 176h0M596 177h0M558 177h0M598 178h0M596 178h0M578 179h0M584 179h0M570 180h0M557 181h0M599 182h0M583 182h0M554 184h0M550 184h0M603 186h0M553 188h0M597 188h0M597 188h0M590 189h0M598 190h0M579 191h0M578 192h0M574 192h0M548 192h0M548 193h0M572 194h0M586 196h0M554 195h0M589 197h0M568 198h0M570 198h0M586 198h0M597 199h0M550 200h0M605 202h0M568 203h0M587 205h0M592 205h0M580 206h0M597 207h0M597 207h0M572 208h0M589 209h0M550 210h0M561 211h0M562 211h0M598 211h0M599 212h0M582 213h0M558 215h0M551 217h0M596 221h0M564 226h0M600 227h0M593 228h0M592 228h0M552 232h0M553 234h0M562 235h0M575 237h0M551 238h0M584 241h0M554 241h0M560 244h0M573 247h0M559 250h0M591 252h0M559 253h0M564 254h0M605 256h0M562 258h0M580 259h0M560 260h0M602 261h0M549 266h0M562 267h0M592 267h0M596 269h0M565 270h0M590 273h0M581 273h0M585 276h0M572 277h0M592 279h0M554 279h0M598 280h0M556 280h0M583 281h0M604 281h0M577 85h0M602 85h0M596 85h0M557 85h0M556 85h0M575 85h0M598 85h0M566 173h0M591 173h0M600 173h0M588 173h0M559 173h0M586 173h0M591 173h0M572 173h0M587 173h0M587 173h0M558 173h0M553 173h0M575 173h0M572 173h0M578 173h0M561 173h0M575 173h0M579 173h0M557 173h0M597 173h0M551 173h0M578 173h0M556 173h0M573 173h0M567 173h0M601 173h0M555 173h0M556 173h0M598 173h0M579 173h0M602 173h0M585 173h0M573 173h0M565 173h0M569 173h0M578 173h0M549 173h0M598 173h0M574 173h0M561 173h0M554 173h0M577 173h0M604 173h0M557 173h0M552 173h0M593 173h0M552 173h0M584 173h0M590 173h0M590 173h0M579 173h0M561 173h0M579 173h0M566 173h0M557 173h0M601 173h0M601 173h0M601 173h0M576 173h0M554 173h0M600 173h0M590 173h0M581 173h0M560 173h0M591 173h0M592 173h0M592 173h0M590 173h0M595 173h0M577 173h0M562 173h0M551 173h0M561 173h0M579 173h0M575 173h0M591 173h0M578 173h0M555 173h0M582 184h0M586 184h0M574 184h0M571 184h0M560 184h0M548 184h0M592 184h0M577 184h0M559 184h0M585 184h0M562 184h0M587 184h0M606 184h0M589 184h0M565 184h0M593 184h0M602 184h0M598 184h0M573 184h0M563 184h0M601 184h0M549 187h0M586 187h0M599 187h0M569 187h0M572 187h0M587 187h0M556 187h0M556 187h0M573 187h0M576 187h0M567 187h0M549 187h0M598 187h0M571 187h0M573 187h0M603 187h0M582 187h0M597 187h0M593 187h0M556 187h0M575 187h0M586 191h0M585 191h0M602 191h0M581 191h0M569 191h0M597 191h0M576 195h0M559 195h0M605 195h0M580 195h0M567 200h0M553 200h0M549 200h0M568 200h0M550 200h0M549 200h0M568 200h0M570 200h0M571 200h0M562 200h0M605 200h0M558 200h0M563 200h0M568 200h0M564 200h0M557 200h0M604 200h0M550 200h0M563 200h0M552 200h0M605 200h0M596 200h0M554 200h0M588 200h0M565 200h0M573 200h0M563 200h0M597 200h0M605 200h0M562 200h0M591 200h0M597 200h0M579 203h0M561 203h0M578 203h0M578 203h0M582 206h0M605 206h0M557 206h0M598 206h0M556 206h0M561 206h0M550 210h0M576 210h0M604 210h0M554 210h0M600 210h0M583 210h0M589 210h0M583 210h0M579 210h0M597 210h0M592 210h0M577 217h0M602 217h0M561 217h0M582 217h0M604 217h0M587 217h0M548 217h0M601 217h0M596 217h0M588 217h0M579 217h0M598 217h0M552 217h0M557 217h0M605 217h0M587 217h0M559 217h0M561 217h0M594 217h0M602 217h0M569 217h0M574 217h0M554 217h0M571 217h0M556 217h0M585 217h0M580 217h0M594 217h0M595 217h0M564 217h0M556 217h0M575 217h0M604 217h0M558 217h0M550 217h0M587 217h0M566 217h0M586 217h0M567 217h0M563 217h0M550 217h0M599 217h0M567 217h0M605 217h0M566 217h0M592 217h0M567 217h0M548 217h0M584 217h0M597 217h0M564 217h0M572 217h0M586 217h0M558 217h0M591 217h0M568 217h0M549 217h0M576 217h0M595 217h0M596 217h0M569 217h0M583 217h0M554 217h0M568 217h0M549 217h0M571 217h0M585 217h0M584 225h0M553 225h0M593 225h0M579 225h0M577 225h0M551 225h0M603 225h0M603 225h0M597 225h0M600 225h0M576 225h0M559 225h0M577 225h0M600 225h0M562 225h0M571 225h0M605 225h0M571 225h0M568 225h0M591 225h0M580 225h0M551 225h0M592 225h0M557 225h0M561 225h0M570 225h0M561 225h0M563 225h0M589 225h0M582 225h0M577 225h0M582 229h0M564 229h0M566 229h0M577 229h0M590 229h0M569 229h0M581 233h0M563 233h0M582 233h0M557 233h0M594 233h0M554 233h0M583 233h0M578 233h0M598 233h0M582 233h0M597 233h0M574 233h0M595 233h0M585 233h0M557 233h0M602 233h0M581 233h0M556 233h0M590 233h0M576 233h0M563 233h0M578 233h0M570 233h0M581 233h0M583 233h0M590 233h0M578 233h0M585 240h0M570 240h0M564 240h0M589 240h0M572 240h0M599 240h0M568 240h0M586 240h0M581 240h0M581 240h0M594 240h0M605 240h0M602 240h0M567 240h0M588 240h0M600 240h0M554 240h0M598 240h0M566 240h0M574 240h0M580 240h0M556 240h0M575 240h0M593 240h0M575 240h0M576 240h0M597 240h0M590 240h0M558 240h0M601 240h0M604 240h0M575 243h0M602 243h0M574 243h0M581 243h0M560 243h0M581 243h0M578 246h0M559 246h0M584 246h0M573 246h0M589 246h0M574 246h0M602 246h0M574 246h0M558 246h0M569 246h0M596 246h0M554 246h0M550 246h0M573 246h0M595 246h0M553 246h0M584 246h0M599 246h0M586 246h0M579 246h0M582 246h0M575 246h0M574 246h0M557 252h0M574 252h0M587 252h0M559 252h0M590 252h0M571 252h0M555 252h0M582 252h0M569 252h0M572 252h0M588 252h0M567 252h0M558 252h0M576 252h0M582 252h0M600 252h0M585 252h0M581 252h0M549 252h0M562 252h0M563 257h0M550 257h0M570 257h0M565 257h0M566 257h0M563 257h0M559 257h0M592 257h0M556 257h0M602 257h0M585 257h0M581 262h0M581 262h0M567 262h0M549 262h0M583 262h0M589 262h0M574 262h0M601 262h0M557 262h0M598 266h0M567 266h0M588 266h0M561 270h0M569 270h0M585 278h0M598 283h0M545 215h0M543 220h0M642 129h0M622 129h0M659 130h0M624 133h0M668 135h0M670 136h0M636 137h0M640 137h0M651 138h0M660 138h0M639 139h0M671 139h0M630 139h0M620 140h0M633 141h0M622 141h0M663 141h0M671 142h0M655 144h0M647 145h0M657 145h0M663 147h0M676 147h0M653 148h0M664 148h0M651 149h0M635 149h0M622 150h0M635 150h0M630 150h0M661 150h0M674 150h0M636 151h0M624 151h0M672 152h0M647 152h0M644 152h0M640 152h0M656 152h0M655 152h0M664 153h0M672 153h0M666 153h0M647 154h0M629 154h0M619 155h0M621 155h0M632 155h0M623 155h0M624 155h0M620 156h0M658 156h0M661 156h0M642 156h0M640 157h0M671 157h0M673 157h0M654 157h0M668 158h0M632 158h0M637 158h0M642 158h0M652 158h0M629 159h0M655 159h0M626 159h0M641 159h0M654 159h0M665 159h0M652 159h0M673 159h0M654 160h0M658 160h0M639 160h0M671 161h0M671 161h0M648 161h0M659 161h0M627 161h0M658 161h0M657 161h0M648 161h0M667 162h0M656 162h0M646 162h0M633 162h0M631 162h0M674 163h0M631 163h0M656 163h0M647 163h0M638 163h0M619 163h0M640 163h0M646 164h0M625 164h0M639 164h0M650 164h0M666 164h0M626 164h0M647 164h0M676 164h0M644 165h0M669 165h0M622 165h0M660 166h0M623 166h0M632 167h0M632 167h0M654 167h0M660 167h0M645 167h0M664 167h0M641 167h0M647 167h0M671 169h0M622 169h0M653 169h0M675 169h0M653 169h0M653 169h0M642 169h0M668 169h0M675 170h0M654 170h0M627 170h0M673 171h0M661 171h0M669 171h0M661 171h0M656 171h0M673 172h0M626 172h0M650 172h0M663 173h0M661 173h0M672 174h0M639 174h0M677 174h0M649 174h0M673 175h0M676 176h0M623 176h0M631 176h0M624 176h0M673 176h0M621 176h0M668 177h0M630 177h0M662 177h0M628 176h0M671 177h0M652 176h0M632 176h0M644 178h0M650 177h0M671 177h0M621 177h0M618 177h0M645 177h0M668 177h0M664 176h0M658 178h0M619 177h0M659 177h0M651 177h0M641 177h0M643 177h0M663 176h0M636 177h0M668 178h0M650 177h0M678 177h0M643 177h0M666 177h0M640 177h0M633 177h0M632 177h0M670 177h0M666 177h0M638 177h0M668 177h0M668 177h0M628 177h0M672 177h0M635 181h0M651 178h0M660 177h0M636 178h0M662 177h0M654 178h0M676 180h0M648 177h0M663 177h0M660 180h0M671 179h0M678 178h0M621 177h0M632 178h0M657 177h0M642 177h0M658 178h0M631 177h0M622 178h0M660 178h0M635 178h0M629 178h0M651 176h0M660 180h0M644 177h0M635 178h0M655 178h0M672 179h0M634 178h0M618 178h0M646 176h0M638 178h0M656 180h0M630 179h0M628 180h0M640 176h0M666 179h0M655 180h0M668 180h0M649 178h0M654 178h0M650 179h0M646 178h0M666 177h0M653 177h0M649 178h0M656 180h0M675 179h0M661 178h0M638 178h0M642 181h0M626 179h0M678 177h0M627 179h0M677 178h0M643 178h0M660 176h0M625 178h0M626 179h0M649 179h0M673 176h0M671 179h0M658 176h0M644 179h0M622 180h0M667 178h0M675 181h0M630 179h0M665 179h0M641 179h0M646 180h0M634 180h0M664 180h0M643 178h0M643 181h0M660 181h0M664 179h0M668 180h0M626 179h0M636 179h0M632 179h0M677 178h0M654 179h0M648 180h0M642 178h0M634 179h0M625 177h0M653 179h0M654 179h0M648 179h0M650 180h0M633 179h0M660 179h0M653 181h0M662 176h0M660 179h0M673 180h0M664 180h0M676 180h0M654 177h0M619 180h0M642 179h0M619 178h0M640 179h0M662 179h0M624 179h0M631 180h0M667 181h0M643 178h0M639 180h0M655 180h0M632 180h0M665 180h0M667 180h0M665 180h0M634 180h0M668 180h0M631 179h0M627 180h0M672 180h0M646 177h0M632 182h0M619 180h0M666 180h0M660 181h0M657 179h0M618 179h0M650 180h0M668 181h0M673 180h0M638 180h0M627 181h0M647 181h0M645 180h0M669 183h0M647 180h0M630 179h0M628 181h0M674 180h0M631 177h0M661 181h0M667 180h0M639 180h0M664 180h0M668 181h0M666 182h0M665 182h0M636 181h0M658 181h0M618 178h0M673 181h0M668 179h0M644 183h0M659 182h0M621 181h0M640 180h0M674 182h0M651 181h0M673 182h0M632 181h0M623 180h0M628 183h0M625 181h0M633 181h0M666 181h0M635 182h0M642 180h0M652 182h0M668 181h0M656 181h0M653 181h0M638 180h0M671 181h0M646 181h0M628 181h0M629 181h0M663 180h0M657 181h0M643 181h0M641 182h0M657 181h0M626 181h0M631 181h0M650 181h0M640 183h0M627 182h0M675 181h0M672 181h0M673 181h0M646 182h0M632 183h0M670 180h0M635 182h0M651 183h0M644 182h0M621 182h0M629 180h0M664 181h0M665 182h0M649 181h0M673 182h0M658 180h0M658 183h0M623 182h0M619 181h0M629 181h0M642 180h0M618 180h0M669 183h0M673 182h0M636 182h0M664 180h0M649 182h0M658 182h0M678 182h0M633 183h0M640 181h0M673 182h0M632 183h0M636 182h0M635 180h0M677 182h0M661 184h0M623 183h0M633 182h0M665 182h0M620 179h0M654 180h0M622 182h0M659 182h0M627 183h0M640 185h0M618 184h0M665 182h0M658 183h0M634 183h0M659 181h0M650 183h0M670 182h0M649 184h0M636 185h0M638 183h0M621 182h0M654 183h0M653 182h0M634 183h0M640 181h0M664 182h0M678 183h0M674 183h0M640 181h0M675 183h0M677 186h0M643 184h0M639 183h0M661 183h0M672 183h0M664 183h0M624 181h0M676 183h0M644 184h0M660 183h0M666 182h0M635 184h0M639 180h0M619 183h0M624 183h0M674 182h0M627 183h0M652 183h0M625 183h0M668 186h0M653 183h0M678 182h0M631 183h0M653 182h0M647 183h0M656 183h0M676 181h0M667 183h0M671 181h0M643 185h0M668 181h0M623 183h0M669 184h0M654 181h0M619 183h0M641 185h0M632 183h0M656 184h0M630 184h0M672 183h0M642 183h0M635 184h0M665 183h0M647 183h0M652 183h0M654 184h0M657 184h0M633 184h0M660 182h0M651 185h0M624 185h0M652 185h0M662 183h0M677 183h0M622 184h0M673 184h0M667 184h0M657 184h0M630 184h0M633 184h0M625 184h0M619 186h0M642 184h0M620 181h0M673 184h0M658 182h0M651 186h0M642 185h0M623 182h0M623 182h0M636 185h0M619 186h0M628 184h0M627 184h0M626 184h0M634 184h0M662 184h0M626 184h0M633 182h0M632 184h0M661 183h0M669 185h0M651 185h0M650 185h0M643 184h0M635 185h0M635 183h0M627 185h0M620 185h0M623 183h0M624 185h0M619 185h0M655 185h0M629 185h0M638 185h0M642 185h0M620 186h0M619 186h0M632 184h0M669 185h0M662 186h0M654 185h0M619 183h0M643 184h0M659 185h0M652 185h0M671 185h0M671 187h0M668 184h0M638 185h0M647 185h0M622 185h0M624 185h0M638 187h0M642 185h0M622 188h0M677 188h0M630 185h0M649 187h0M656 185h0M663 184h0M638 186h0M661 186h0M648 185h0M630 186h0M642 187h0M669 186h0M651 186h0M657 186h0M621 187h0M622 187h0M645 186h0M677 185h0M650 186h0M671 186h0M661 186h0M669 185h0M628 186h0M657 184h0M647 188h0M631 185h0M667 184h0M671 186h0M633 188h0M675 185h0M664 188h0M674 189h0M640 188h0M644 186h0M667 186h0M626 186h0M664 186h0M661 186h0M621 184h0M659 185h0M621 187h0M659 189h0M630 183h0M639 187h0M673 186h0M666 185h0M623 186h0M674 185h0M673 184h0M634 186h0M657 187h0M641 187h0M629 187h0M621 187h0M655 187h0M661 187h0M663 186h0M668 187h0M620 185h0M635 189h0M663 187h0M642 187h0M674 187h0M619 184h0M671 187h0M675 187h0M638 187h0M644 188h0M654 187h0M642 189h0M675 187h0M648 186h0M670 191h0M674 187h0M622 187h0M644 187h0M658 187h0M625 184h0M668 187h0M618 188h0M672 186h0M625 185h0M623 187h0M672 189h0M638 187h0M643 187h0M645 186h0M674 187h0M648 187h0M625 187h0M619 186h0M647 188h0M650 188h0M627 186h0M632 189h0M638 187h0M661 186h0M639 190h0M674 187h0M626 188h0M657 188h0M648 190h0M641 188h0M642 190h0M653 189h0M646 187h0M667 188h0M628 190h0M623 188h0M655 188h0M662 186h0M622 190h0M673 188h0M622 189h0M628 187h0M629 188h0M674 190h0M669 186h0M655 189h0M646 188h0M622 189h0M634 190h0M625 188h0M653 188h0M655 186h0M651 188h0M625 188h0M664 188h0M672 187h0M660 188h0M641 190h0M646 187h0M660 188h0M662 189h0M639 188h0M647 187h0M654 187h0M669 188h0M674 188h0M649 190h0M643 188h0M639 190h0M631 188h0M664 188h0M668 188h0M645 187h0M619 188h0M677 188h0M644 186h0M660 189h0M674 187h0M644 189h0M630 187h0M660 189h0M635 190h0M677 189h0M665 190h0M663 189h0M628 189h0M630 188h0M646 187h0M628 189h0M663 189h0M630 189h0M668 189h0M618 192h0M673 190h0M651 188h0M639 188h0M627 189h0M659 189h0M638 189h0M671 189h0M650 191h0M670 188h0M643 190h0M637 189h0M662 189h0M640 189h0M638 189h0M653 188h0M645 188h0M676 188h0M676 191h0M635 191h0M661 190h0M664 188h0M662 189h0M652 189h0M635 190h0M659 189h0M659 189h0M635 191h0M630 188h0M655 193h0M655 189h0M668 190h0M630 190h0M635 190h0M621 190h0M636 192h0M631 190h0M664 188h0M641 191h0M646 188h0M637 190h0M632 190h0M677 190h0M632 189h0M633 193h0M636 191h0M638 192h0M660 190h0M653 190h0M666 187h0M653 190h0M678 192h0M661 186h0M648 192h0M626 188h0M644 191h0M637 190h0M632 190h0M647 188h0M666 191h0M665 190h0M624 191h0M660 191h0M630 190h0M664 190h0M648 190h0M619 190h0M630 190h0M636 190h0M654 191h0M674 190h0M635 190h0M619 192h0M619 195h0M677 190h0M669 190h0M655 191h0M633 191h0M656 191h0M635 191h0M659 191h0M652 191h0M627 191h0M656 190h0M633 191h0M675 191h0M663 191h0M672 191h0M626 189h0M635 195h0M639 191h0M658 193h0M674 191h0M640 191h0M653 190h0M674 191h0M663 189h0M654 190h0M637 192h0M662 191h0M638 190h0M640 193h0M631 191h0M642 191h0M678 191h0M630 191h0M641 191h0M633 191h0M661 190h0M629 192h0M643 192h0M663 190h0M628 191h0M630 193h0M667 191h0M636 191h0M676 191h0M628 191h0M660 191h0M676 191h0M652 190h0M624 191h0M661 192h0M625 192h0M676 192h0M624 191h0M652 192h0M640 192h0M644 191h0M662 191h0M648 192h0M667 192h0M640 192h0M639 192h0M622 195h0M655 191h0M651 193h0M650 192h0M641 194h0M620 192h0M623 192h0M660 194h0M654 192h0M675 192h0M628 192h0M667 194h0M626 192h0M647 191h0M677 195h0M664 192h0M657 190h0M641 192h0M670 194h0M665 192h0M620 193h0M662 192h0M648 192h0M662 192h0M637 192h0M670 192h0M677 193h0M660 194h0M628 193h0M676 192h0M652 193h0M620 194h0M656 193h0M661 193h0M674 193h0M661 192h0M661 193h0M628 193h0M647 191h0M625 192h0M662 194h0M630 193h0M625 197h0M669 192h0M637 193h0M664 195h0M661 191h0M672 193h0M660 193h0M629 195h0M660 193h0M663 192h0M658 193h0M649 192h0M650 193h0M644 192h0M672 195h0M662 193h0M672 191h0M639 193h0M636 193h0M662 192h0M676 194h0M658 193h0M621 193h0M632 196h0M664 195h0M632 194h0M660 194h0M660 194h0M640 197h0M676 194h0M675 193h0M623 194h0M672 193h0M622 194h0M666 195h0M635 195h0M663 194h0M664 194h0M651 196h0M674 193h0M658 194h0M677 194h0M672 194h0M658 194h0M646 194h0M638 194h0M672 194h0M646 194h0M653 194h0M643 193h0M652 195h0M668 194h0M676 193h0M672 194h0M638 195h0M640 194h0M629 197h0M661 193h0M656 193h0M665 194h0M655 195h0M620 194h0M665 194h0M645 192h0M652 197h0M635 194h0M651 195h0M657 194h0M646 194h0M639 193h0M654 195h0M676 192h0M627 194h0M622 197h0M662 194h0M648 195h0M665 193h0M651 195h0M634 196h0M666 196h0M621 195h0M628 193h0M643 194h0M629 195h0M634 196h0M667 195h0M657 196h0M667 195h0M622 195h0M634 195h0M646 195h0M634 196h0M667 195h0M662 195h0M651 195h0M669 195h0M623 195h0M659 195h0M647 195h0M661 195h0M634 195h0M641 196h0M640 193h0M649 195h0M676 195h0M660 200h0M654 195h0M673 197h0M648 192h0M633 196h0M671 197h0M657 196h0M627 196h0M666 196h0M665 196h0M640 196h0M663 200h0M629 193h0M638 196h0M646 195h0M648 196h0M671 196h0M665 197h0M632 196h0M634 196h0M643 196h0M646 194h0M670 196h0M678 197h0M659 198h0M647 196h0M622 196h0M626 197h0M663 196h0M622 196h0M663 194h0M646 196h0M667 196h0M671 197h0M632 196h0M670 196h0M643 198h0M661 196h0M628 195h0M640 198h0M654 196h0M630 197h0M631 196h0M637 196h0M671 199h0M625 197h0M659 196h0M633 196h0M629 196h0M650 194h0M665 197h0M644 197h0M657 197h0M672 197h0M643 197h0M623 197h0M655 197h0M654 198h0M642 197h0M668 199h0M671 197h0M659 198h0M651 197h0M648 198h0M651 198h0M624 195h0M638 197h0M668 196h0M672 198h0M659 197h0M648 200h0M651 197h0M637 197h0M669 197h0M675 197h0M635 198h0M660 197h0M657 196h0M650 197h0M667 197h0M620 197h0M649 195h0M623 197h0M644 197h0M636 197h0M624 196h0M620 195h0M642 197h0M637 198h0M661 197h0M623 197h0M658 197h0M640 197h0M629 197h0M663 198h0M640 198h0M635 198h0M639 199h0M652 198h0M663 198h0M673 198h0M674 197h0M670 195h0M640 196h0M623 198h0M668 198h0M648 197h0M621 199h0M655 196h0M636 200h0M645 198h0M658 198h0M627 198h0M621 199h0M653 198h0M651 198h0M652 199h0M629 198h0M628 197h0M637 198h0M619 198h0M641 198h0M658 198h0M648 198h0M668 196h0M663 197h0M668 200h0M657 199h0M642 198h0M648 198h0M621 198h0M668 198h0M619 198h0M664 200h0M647 198h0M674 199h0M657 198h0M663 201h0M664 198h0M638 199h0M621 199h0M662 199h0M622 198h0M650 199h0M623 200h0M652 199h0M621 200h0M666 200h0M626 199h0M652 197h0M645 199h0M630 199h0M640 199h0M631 199h0M644 200h0M627 199h0M677 199h0M638 199h0M624 200h0M655 199h0M638 197h0M663 199h0M653 200h0M650 200h0M666 199h0M625 199h0M636 200h0M674 199h0M622 198h0M649 200h0M667 199h0M675 201h0M625 200h0M623 201h0M639 197h0M631 198h0M669 200h0M663 199h0M677 198h0M667 199h0M661 199h0M620 199h0M621 199h0M631 200h0M620 201h0M652 200h0M665 202h0M667 201h0M639 200h0M665 198h0M642 201h0M651 200h0M650 200h0M635 200h0M663 198h0M629 200h0M646 199h0M640 199h0M644 201h0M667 200h0M647 200h0M623 199h0M660 198h0M649 201h0M634 200h0M645 200h0M642 200h0M671 200h0M661 200h0M652 200h0M674 199h0M677 201h0M644 197h0M635 200h0M632 199h0M646 200h0M624 198h0M660 200h0M625 202h0M638 200h0M653 200h0M653 200h0M641 201h0M646 199h0M643 201h0M623 199h0M630 201h0M650 201h0M671 200h0M621 201h0M631 201h0M669 202h0M659 201h0M626 201h0M652 202h0M635 202h0M657 202h0M650 201h0M619 201h0M677 201h0M637 202h0M645 203h0M649 201h0M661 200h0M655 202h0M647 200h0M653 201h0M673 203h0M631 201h0M667 201h0M674 202h0M658 201h0M638 203h0M626 201h0M668 202h0M646 200h0M667 201h0M619 204h0M641 201h0M669 204h0M643 202h0M634 203h0M654 202h0M672 202h0M624 201h0M678 200h0M654 202h0M671 202h0M676 204h0M641 200h0M641 202h0M633 202h0M672 201h0M633 201h0M643 202h0M639 202h0M675 202h0M648 202h0M671 203h0M637 202h0M643 203h0M677 202h0M653 203h0M660 200h0M630 201h0M639 203h0M640 203h0M639 203h0M654 203h0M674 203h0M633 203h0M624 203h0M651 204h0M626 205h0M649 203h0M634 204h0M637 203h0M621 202h0M672 200h0M648 206h0M672 203h0M661 203h0M635 200h0M672 204h0M676 202h0M667 204h0M663 203h0M625 203h0M674 203h0M620 205h0M643 205h0M673 203h0M645 204h0M657 204h0M648 204h0M628 205h0M625 204h0M673 205h0M638 205h0M629 202h0M642 205h0M666 205h0M629 202h0M635 204h0M634 205h0M620 205h0M629 206h0M619 206h0M663 203h0M622 205h0M634 206h0M659 204h0M651 206h0M652 205h0M641 205h0M648 205h0M630 206h0M668 205h0M642 205h0M640 206h0M636 206h0M675 206h0M625 206h0M621 206h0M626 203h0M630 206h0M662 206h0M663 206h0M664 206h0M660 206h0M661 205h0M659 206h0M668 208h0M655 207h0M641 206h0M631 206h0M645 206h0M660 206h0M627 208h0M624 208h0M673 206h0M652 207h0M667 208h0M647 206h0M662 207h0M667 207h0M639 207h0M664 206h0M667 207h0M624 207h0M675 207h0M639 206h0M669 206h0M640 207h0M665 207h0M634 207h0M668 209h0M635 207h0M643 207h0M673 208h0M632 207h0M671 208h0M633 209h0M631 209h0M642 208h0M638 209h0M640 208h0M660 209h0M632 208h0M653 208h0M629 208h0M660 208h0M624 208h0M626 208h0M638 208h0M622 208h0M656 209h0M646 209h0M639 211h0M665 209h0M644 209h0M643 209h0M635 210h0M673 205h0M629 209h0M669 209h0M664 209h0M628 209h0M674 208h0M632 210h0M668 209h0M636 212h0M620 209h0M627 210h0M650 208h0M674 209h0M633 210h0M636 212h0M628 210h0M640 209h0M638 210h0M661 209h0M622 210h0M665 210h0M655 208h0M659 210h0M665 210h0M640 210h0M650 209h0M627 209h0M629 210h0M664 212h0M663 211h0M657 211h0M656 210h0M624 211h0M627 211h0M645 211h0M662 211h0M666 211h0M626 211h0M664 215h0M663 211h0M644 211h0M626 211h0M631 211h0M628 214h0M622 212h0M671 211h0M634 211h0M622 212h0M671 212h0M654 212h0M647 212h0M665 212h0M620 211h0M627 212h0M648 212h0M673 215h0M642 213h0M649 211h0M642 211h0M658 210h0M639 213h0M631 211h0M649 213h0M627 213h0M633 213h0M622 213h0M663 213h0M657 215h0M652 212h0M660 213h0M659 212h0M674 213h0M629 213h0M672 214h0M663 214h0M631 216h0M624 215h0M658 214h0M675 214h0M653 213h0M656 212h0M656 217h0M672 214h0M671 214h0M637 215h0M625 214h0M659 215h0M651 214h0M676 213h0M657 213h0M673 215h0M669 215h0M662 215h0M643 215h0M634 215h0M650 217h0M626 217h0M624 214h0M666 214h0M674 214h0M647 215h0M627 213h0M621 217h0M648 214h0M666 215h0M666 214h0M663 217h0M642 216h0M645 213h0M630 214h0M621 215h0M648 217h0M630 216h0M645 217h0M655 217h0M666 216h0M657 217h0M652 215h0M628 215h0M663 217h0M649 216h0M648 220h0M661 217h0M639 216h0M657 217h0M621 217h0M639 217h0M653 216h0M626 215h0M625 219h0M633 218h0M656 218h0M636 218h0M656 220h0M634 219h0M625 218h0M634 220h0M662 219h0M623 217h0M634 219h0M622 219h0M622 222h0M651 219h0M675 217h0M627 219h0M646 219h0M657 221h0M667 219h0M632 221h0M646 220h0M645 220h0M626 219h0M667 219h0M663 220h0M638 217h0M673 219h0M645 220h0M644 221h0M636 220h0M646 221h0M641 221h0M643 221h0M640 222h0M660 221h0M639 221h0M627 221h0M628 221h0M657 222h0M662 221h0M638 223h0M627 219h0M642 223h0M646 222h0M637 222h0M649 223h0M633 222h0M662 222h0M633 219h0M645 223h0M638 221h0M672 222h0M669 223h0M626 223h0M672 225h0M675 221h0M622 223h0M670 223h0M644 223h0M661 223h0M628 225h0M659 223h0M652 224h0M649 224h0M627 222h0M623 224h0M636 224h0M638 224h0M655 222h0M637 224h0M640 223h0M673 224h0M623 223h0M643 223h0M669 225h0M634 225h0M663 227h0M640 225h0M661 226h0M635 226h0M647 226h0M654 226h0M634 223h0M645 226h0M655 226h0M624 226h0M654 227h0M666 227h0M652 225h0M645 228h0M668 227h0M654 227h0M660 227h0M651 228h0M653 229h0M661 228h0M655 228h0M644 228h0M672 227h0M632 228h0M651 228h0M628 228h0M670 230h0M645 231h0M674 229h0M671 228h0M664 230h0M637 230h0M639 230h0M636 230h0M652 232h0M644 230h0M649 230h0M651 231h0M636 231h0M623 230h0M644 229h0M671 231h0M642 231h0M650 231h0M670 232h0M645 232h0M656 232h0M666 229h0M673 236h0M638 233h0M667 233h0M671 234h0M633 236h0M643 235h0M655 234h0M657 232h0M627 235h0M647 233h0M632 233h0M671 235h0M650 235h0M633 235h0M653 237h0M642 236h0M626 237h0M641 237h0M642 239h0M630 238h0M631 238h0M628 239h0M655 238h0M638 240h0M657 240h0M632 239h0M629 242h0M653 242h0M633 241h0M652 240h0M630 242h0M640 242h0M668 243h0M660 242h0M640 243h0M628 241h0M654 244h0M626 244h0M647 245h0M665 244h0M632 244h0M650 245h0M626 245h0M639 246h0M625 246h0M657 247h0M663 248h0M644 247h0M659 250h0M652 248h0M672 248h0M662 253h0M667 250h0M666 251h0M654 251h0M631 248h0M653 252h0M668 252h0M659 252h0M671 252h0M631 254h0M663 253h0M635 254h0M645 255h0M640 255h0M638 256h0M671 258h0M644 258h0M643 262h0M637 259h0M640 259h0M640 259h0M642 260h0M628 262h0M658 262h0M639 263h0M636 264h0M669 265h0M639 266h0M651 271h0M646 269h0M654 272h0M656 273h0M648 269h0M632 273h0M631 274h0M656 274h0M667 275h0M661 275h0M634 277h0M636 279h0M650 280h0M630 281h0M640 282h0M638 286h0M635 137h0M662 137h0M672 137h0M638 137h0M665 137h0M670 137h0M627 140h0M647 140h0M671 140h0M649 140h0M646 140h0M642 140h0M631 140h0M646 140h0M624 140h0M673 140h0M622 140h0M666 143h0M634 143h0M662 143h0M661 143h0M671 143h0M634 143h0M669 143h0M645 143h0M648 143h0M634 143h0M672 143h0M662 143h0M633 143h0M641 146h0M637 146h0M645 146h0M670 146h0M661 146h0M675 146h0M639 146h0M623 146h0M647 146h0M663 146h0M646 146h0M642 146h0M638 146h0M651 146h0M626 146h0M634 148h0M655 148h0M622 148h0M660 148h0M652 148h0M635 148h0M640 148h0M638 148h0M649 148h0M661 148h0M625 148h0M671 148h0M627 148h0M625 148h0M657 148h0M643 148h0M634 148h0M642 148h0M655 151h0M658 151h0M658 151h0M630 151h0M648 151h0M634 151h0M653 151h0M647 151h0M626 151h0M622 151h0M676 151h0M658 151h0M623 151h0M623 151h0M675 151h0M654 151h0M632 151h0M646 151h0M659 154h0M654 154h0M622 154h0M631 154h0M646 154h0M647 154h0M632 154h0M670 154h0M655 154h0M651 154h0M625 154h0M623 154h0M669 154h0M646 154h0M653 154h0M622 154h0M630 154h0M641 154h0M630 154h0M666 154h0M668 154h0M640 156h0M657 156h0M668 156h0M652 156h0M675 156h0M660 156h0M636 156h0M627 156h0M640 156h0M651 156h0M653 156h0M645 156h0M651 156h0M665 156h0M625 156h0M660 156h0M631 156h0M662 156h0M634 156h0M628 156h0M665 156h0M629 156h0M643 156h0M668 156h0M644 156h0M669 156h0M655 156h0M675 156h0M663 156h0M627 156h0M631 156h0M638 160h0M644 160h0M638 160h0M649 160h0M645 160h0M663 160h0M622 160h0M675 160h0M668 160h0M652 160h0M663 160h0M642 160h0M637 160h0M655 160h0M670 160h0M658 160h0M654 160h0M639 160h0M636 160h0M646 160h0M676 160h0M625 163h0M629 163h0M647 163h0M662 163h0M628 163h0M654 163h0M655 163h0M621 163h0M651 163h0M633 163h0M674 163h0M667 163h0M670 163h0M638 163h0M651 163h0M643 163h0M632 163h0M660 163h0M625 163h0M635 163h0M640 163h0M662 163h0M625 163h0M627 163h0M664 165h0M620 165h0M631 165h0M648 165h0M675 165h0M624 165h0M620 165h0M646 165h0M671 165h0M639 165h0M658 165h0M656 165h0M658 165h0M672 165h0M671 165h0M663 165h0M667 165h0M660 165h0M623 165h0M673 165h0M676 165h0M630 168h0M647 168h0M659 168h0M635 168h0M624 168h0M632 168h0M628 168h0M657 168h0M624 168h0M673 168h0M670 168h0M635 168h0M643 168h0M646 168h0M631 168h0M659 168h0M637 168h0M673 168h0M664 168h0M656 168h0M649 168h0M649 168h0M675 168h0M663 168h0M672 170h0M634 170h0M675 170h0M634 170h0M656 170h0M675 170h0M655 170h0M645 170h0M658 170h0M649 170h0M636 170h0M633 173h0M646 173h0M659 173h0M637 173h0M651 173h0M640 173h0M670 173h0M678 173h0M631 173h0M651 173h0M674 173h0M620 173h0M620 173h0M630 173h0M624 173h0M674 173h0M629 173h0M636 173h0M672 173h0M676 173h0M618 173h0M641 173h0M629 173h0M627 173h0M646 173h0M624 173h0M655 173h0M628 173h0M643 173h0M669 173h0M679 173h0M624 173h0M623 173h0M678 173h0M624 173h0M645 173h0M651 173h0M643 173h0M674 173h0M642 173h0M629 173h0M662 173h0M670 173h0M659 173h0M628 173h0M663 173h0M644 173h0M625 173h0M679 173h0M623 173h0M647 173h0M664 173h0M643 173h0M644 173h0M654 173h0M656 173h0M626 173h0M643 173h0M631 173h0M666 173h0M675 173h0M635 173h0M618 173h0M646 173h0M661 173h0M676 173h0M673 173h0M676 173h0M639 173h0M674 173h0M634 173h0M656 173h0M629 173h0M643 173h0M625 173h0" stroke="#505050" stroke-width="2.5" stroke-linecap="round" fill="none"/>
<path d="M86.5 51.2V73.3M86.5 89.6V114.7M77.6 51.2H94.7M77.6 114.7H94.7M77.7 73.3H94.4V89.6H77.7ZM77.7 80.2H94.4M157.8 40.3V62.3M157.8 96.6V147.8M148.8 40.3H165.8M148.8 147.8H165.8M149.5 62.3H165.8V96.6H149.5ZM149.5 78.8H165.8M229.3 40.3V50.5M229.3 73.2V108.5M220.5 40.3H237.6M220.5 108.5H237.6M221.2 50.5H237.4V73.2H221.2ZM221.2 66.9H237.4M300.8 40.2V48.1M300.8 78.8V124.4M292.3 40.2H308.8M292.3 124.4H308.8M292.1 48.1H309.6V78.8H292.1ZM292.1 55.2H309.6M434.7 133.7V162.6M434.7 181.1V209.7M425.4 133.7H442.4M425.4 209.7H442.4M426.4 162.6H442.7V181.1H426.4ZM426.4 173.5H442.7M505.4 128.5V186.2M505.4 228.5V287.8M496.6 128.5H514.0M496.6 287.8H514.0M497.8 186.2H513.6V228.5H497.8ZM497.8 199.2H513.6M577.0 66.6V126.4M577.0 190.0V272.1M568.3 66.6H585.5M568.3 272.1H585.5M568.4 126.4H585.1V190.0H568.4ZM568.4 150.7H585.1M648.0 139.8V173.1M648.0 195.7V231.2M639.6 139.8H656.4M639.6 231.2H656.4M639.7 173.1H656.4V195.7H639.7ZM639.7 186.9H656.4" stroke="#000" stroke-width="3.0" fill="none"/>
</svg>
</body></html>
